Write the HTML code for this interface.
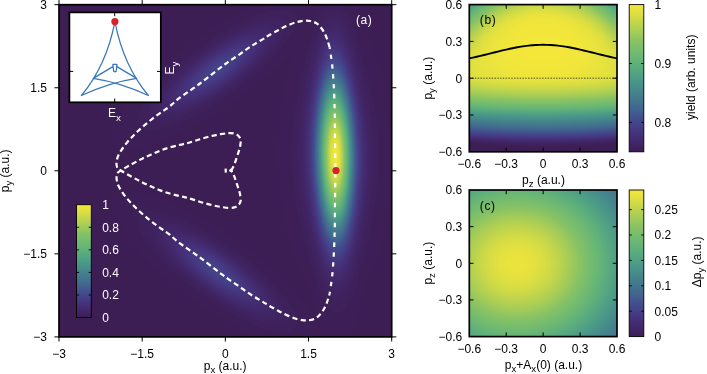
<!DOCTYPE html>
<html><head><meta charset="utf-8"><title>figure</title>
<style>html,body{margin:0;padding:0;background:#fff}svg{display:block}filter,feComponentTransfer,feColorMatrix,feGaussianBlur{color-interpolation-filters:sRGB}text{font-family:"Liberation Sans",Arial,Helvetica,sans-serif;font-size:12px;fill:#000}.w{fill:#fff}</style></head><body>
<svg width="707" height="374" viewBox="0 0 707 374">
<defs>
<filter id="cm" x="0" y="0" width="1" height="1" color-interpolation-filters="sRGB"><feComponentTransfer color-interpolation-filters="sRGB"><feFuncR type="table" tableValues="0.2392 0.2488 0.2584 0.2680 0.2736 0.2707 0.2678 0.2642 0.2612 0.2589 0.2606 0.2624 0.2669 0.2722 0.2794 0.2882 0.3012 0.3235 0.3458 0.3681 0.3976 0.4289 0.4602 0.4982 0.5367 0.5879 0.6451 0.7023 0.7595 0.8145 0.8658 0.9142 0.9608"/><feFuncG type="table" tableValues="0.1176 0.1368 0.1560 0.1752 0.1988 0.2320 0.2652 0.2980 0.3396 0.3857 0.4207 0.4557 0.4880 0.5195 0.5520 0.5852 0.6157 0.6402 0.6647 0.6892 0.7072 0.7235 0.7399 0.7525 0.7647 0.7816 0.8007 0.8197 0.8388 0.8574 0.8752 0.8912 0.9059"/><feFuncB type="table" tableValues="0.3333 0.3728 0.4122 0.4516 0.4867 0.5127 0.5386 0.5564 0.5608 0.5607 0.5590 0.5572 0.5541 0.5506 0.5451 0.5381 0.5287 0.5142 0.4997 0.4852 0.4682 0.4505 0.4328 0.4137 0.3944 0.3716 0.3471 0.3225 0.2980 0.2759 0.2581 0.2422 0.2275"/></feComponentTransfer></filter>
<filter id="cmb" filterUnits="userSpaceOnUse" x="440" y="-20" width="220" height="200" color-interpolation-filters="sRGB"><feGaussianBlur color-interpolation-filters="sRGB" stdDeviation="0 1.6"/><feComponentTransfer color-interpolation-filters="sRGB"><feFuncR type="table" tableValues="0.2392 0.2488 0.2584 0.2680 0.2736 0.2707 0.2678 0.2642 0.2612 0.2589 0.2606 0.2624 0.2669 0.2722 0.2794 0.2882 0.3012 0.3235 0.3458 0.3681 0.3976 0.4289 0.4602 0.4982 0.5367 0.5879 0.6451 0.7023 0.7595 0.8145 0.8658 0.9142 0.9608"/><feFuncG type="table" tableValues="0.1176 0.1368 0.1560 0.1752 0.1988 0.2320 0.2652 0.2980 0.3396 0.3857 0.4207 0.4557 0.4880 0.5195 0.5520 0.5852 0.6157 0.6402 0.6647 0.6892 0.7072 0.7235 0.7399 0.7525 0.7647 0.7816 0.8007 0.8197 0.8388 0.8574 0.8752 0.8912 0.9059"/><feFuncB type="table" tableValues="0.3333 0.3728 0.4122 0.4516 0.4867 0.5127 0.5386 0.5564 0.5608 0.5607 0.5590 0.5572 0.5541 0.5506 0.5451 0.5381 0.5287 0.5142 0.4997 0.4852 0.4682 0.4505 0.4328 0.4137 0.3944 0.3716 0.3471 0.3225 0.2980 0.2759 0.2581 0.2422 0.2275"/></feComponentTransfer></filter>
<radialGradient id="ga1" gradientUnits="userSpaceOnUse" cx="0" cy="0" r="4.00" gradientTransform="translate(335.30 156.00) rotate(-0.70) scale(11.0000 55.0000)"><stop offset="0.0000" stop-color="#fff" stop-opacity="0.8000"/><stop offset="0.0385" stop-color="#fff" stop-opacity="0.7906"/><stop offset="0.0769" stop-color="#fff" stop-opacity="0.7630"/><stop offset="0.1154" stop-color="#fff" stop-opacity="0.7192"/><stop offset="0.1538" stop-color="#fff" stop-opacity="0.6620"/><stop offset="0.1923" stop-color="#fff" stop-opacity="0.5951"/><stop offset="0.2308" stop-color="#fff" stop-opacity="0.5225"/><stop offset="0.2692" stop-color="#fff" stop-opacity="0.4480"/><stop offset="0.3077" stop-color="#fff" stop-opacity="0.3751"/><stop offset="0.3462" stop-color="#fff" stop-opacity="0.3067"/><stop offset="0.3846" stop-color="#fff" stop-opacity="0.2450"/><stop offset="0.4231" stop-color="#fff" stop-opacity="0.1911"/><stop offset="0.4615" stop-color="#fff" stop-opacity="0.1455"/><stop offset="0.5000" stop-color="#fff" stop-opacity="0.1083"/><stop offset="0.5385" stop-color="#fff" stop-opacity="0.0787"/><stop offset="0.5769" stop-color="#fff" stop-opacity="0.0558"/><stop offset="0.6154" stop-color="#fff" stop-opacity="0.0387"/><stop offset="0.6538" stop-color="#fff" stop-opacity="0.0262"/><stop offset="0.6923" stop-color="#fff" stop-opacity="0.0173"/><stop offset="0.7308" stop-color="#fff" stop-opacity="0.0112"/><stop offset="0.7692" stop-color="#fff" stop-opacity="0.0070"/><stop offset="0.8077" stop-color="#fff" stop-opacity="0.0043"/><stop offset="0.8462" stop-color="#fff" stop-opacity="0.0026"/><stop offset="0.8846" stop-color="#fff" stop-opacity="0.0015"/><stop offset="0.9231" stop-color="#fff" stop-opacity="0.0009"/><stop offset="0.9615" stop-color="#fff" stop-opacity="0.0005"/><stop offset="1.0000" stop-color="#fff" stop-opacity="0.0000"/></radialGradient>
<radialGradient id="ga1b" gradientUnits="userSpaceOnUse" cx="0" cy="0" r="4.00" gradientTransform="translate(335.30 156.00) rotate(-0.70) scale(19.0000 48.0000)"><stop offset="0.0000" stop-color="#fff" stop-opacity="0.2000"/><stop offset="0.0385" stop-color="#fff" stop-opacity="0.1976"/><stop offset="0.0769" stop-color="#fff" stop-opacity="0.1908"/><stop offset="0.1154" stop-color="#fff" stop-opacity="0.1798"/><stop offset="0.1538" stop-color="#fff" stop-opacity="0.1655"/><stop offset="0.1923" stop-color="#fff" stop-opacity="0.1488"/><stop offset="0.2308" stop-color="#fff" stop-opacity="0.1306"/><stop offset="0.2692" stop-color="#fff" stop-opacity="0.1120"/><stop offset="0.3077" stop-color="#fff" stop-opacity="0.0938"/><stop offset="0.3462" stop-color="#fff" stop-opacity="0.0767"/><stop offset="0.3846" stop-color="#fff" stop-opacity="0.0612"/><stop offset="0.4231" stop-color="#fff" stop-opacity="0.0478"/><stop offset="0.4615" stop-color="#fff" stop-opacity="0.0364"/><stop offset="0.5000" stop-color="#fff" stop-opacity="0.0271"/><stop offset="0.5385" stop-color="#fff" stop-opacity="0.0197"/><stop offset="0.5769" stop-color="#fff" stop-opacity="0.0140"/><stop offset="0.6154" stop-color="#fff" stop-opacity="0.0097"/><stop offset="0.6538" stop-color="#fff" stop-opacity="0.0065"/><stop offset="0.6923" stop-color="#fff" stop-opacity="0.0043"/><stop offset="0.7308" stop-color="#fff" stop-opacity="0.0028"/><stop offset="0.7692" stop-color="#fff" stop-opacity="0.0018"/><stop offset="0.8077" stop-color="#fff" stop-opacity="0.0011"/><stop offset="0.8462" stop-color="#fff" stop-opacity="0.0007"/><stop offset="0.8846" stop-color="#fff" stop-opacity="0.0004"/><stop offset="0.9231" stop-color="#fff" stop-opacity="0.0002"/><stop offset="0.9615" stop-color="#fff" stop-opacity="0.0001"/><stop offset="1.0000" stop-color="#fff" stop-opacity="0.0000"/></radialGradient>
<radialGradient id="ga2" gradientUnits="userSpaceOnUse" cx="0" cy="0" r="4.00" gradientTransform="translate(217.00 69.50) rotate(-36.00) scale(42.0000 12.0000)"><stop offset="0.0000" stop-color="#fff" stop-opacity="0.1900"/><stop offset="0.0385" stop-color="#fff" stop-opacity="0.1878"/><stop offset="0.0769" stop-color="#fff" stop-opacity="0.1812"/><stop offset="0.1154" stop-color="#fff" stop-opacity="0.1708"/><stop offset="0.1538" stop-color="#fff" stop-opacity="0.1572"/><stop offset="0.1923" stop-color="#fff" stop-opacity="0.1413"/><stop offset="0.2308" stop-color="#fff" stop-opacity="0.1241"/><stop offset="0.2692" stop-color="#fff" stop-opacity="0.1064"/><stop offset="0.3077" stop-color="#fff" stop-opacity="0.0891"/><stop offset="0.3462" stop-color="#fff" stop-opacity="0.0729"/><stop offset="0.3846" stop-color="#fff" stop-opacity="0.0582"/><stop offset="0.4231" stop-color="#fff" stop-opacity="0.0454"/><stop offset="0.4615" stop-color="#fff" stop-opacity="0.0346"/><stop offset="0.5000" stop-color="#fff" stop-opacity="0.0257"/><stop offset="0.5385" stop-color="#fff" stop-opacity="0.0187"/><stop offset="0.5769" stop-color="#fff" stop-opacity="0.0133"/><stop offset="0.6154" stop-color="#fff" stop-opacity="0.0092"/><stop offset="0.6538" stop-color="#fff" stop-opacity="0.0062"/><stop offset="0.6923" stop-color="#fff" stop-opacity="0.0041"/><stop offset="0.7308" stop-color="#fff" stop-opacity="0.0027"/><stop offset="0.7692" stop-color="#fff" stop-opacity="0.0017"/><stop offset="0.8077" stop-color="#fff" stop-opacity="0.0010"/><stop offset="0.8462" stop-color="#fff" stop-opacity="0.0006"/><stop offset="0.8846" stop-color="#fff" stop-opacity="0.0004"/><stop offset="0.9231" stop-color="#fff" stop-opacity="0.0002"/><stop offset="0.9615" stop-color="#fff" stop-opacity="0.0001"/><stop offset="1.0000" stop-color="#fff" stop-opacity="0.0000"/></radialGradient>
<radialGradient id="ga3" gradientUnits="userSpaceOnUse" cx="0" cy="0" r="4.00" gradientTransform="translate(217.00 271.50) rotate(36.00) scale(42.0000 12.0000)"><stop offset="0.0000" stop-color="#fff" stop-opacity="0.1900"/><stop offset="0.0385" stop-color="#fff" stop-opacity="0.1878"/><stop offset="0.0769" stop-color="#fff" stop-opacity="0.1812"/><stop offset="0.1154" stop-color="#fff" stop-opacity="0.1708"/><stop offset="0.1538" stop-color="#fff" stop-opacity="0.1572"/><stop offset="0.1923" stop-color="#fff" stop-opacity="0.1413"/><stop offset="0.2308" stop-color="#fff" stop-opacity="0.1241"/><stop offset="0.2692" stop-color="#fff" stop-opacity="0.1064"/><stop offset="0.3077" stop-color="#fff" stop-opacity="0.0891"/><stop offset="0.3462" stop-color="#fff" stop-opacity="0.0729"/><stop offset="0.3846" stop-color="#fff" stop-opacity="0.0582"/><stop offset="0.4231" stop-color="#fff" stop-opacity="0.0454"/><stop offset="0.4615" stop-color="#fff" stop-opacity="0.0346"/><stop offset="0.5000" stop-color="#fff" stop-opacity="0.0257"/><stop offset="0.5385" stop-color="#fff" stop-opacity="0.0187"/><stop offset="0.5769" stop-color="#fff" stop-opacity="0.0133"/><stop offset="0.6154" stop-color="#fff" stop-opacity="0.0092"/><stop offset="0.6538" stop-color="#fff" stop-opacity="0.0062"/><stop offset="0.6923" stop-color="#fff" stop-opacity="0.0041"/><stop offset="0.7308" stop-color="#fff" stop-opacity="0.0027"/><stop offset="0.7692" stop-color="#fff" stop-opacity="0.0017"/><stop offset="0.8077" stop-color="#fff" stop-opacity="0.0010"/><stop offset="0.8462" stop-color="#fff" stop-opacity="0.0006"/><stop offset="0.8846" stop-color="#fff" stop-opacity="0.0004"/><stop offset="0.9231" stop-color="#fff" stop-opacity="0.0002"/><stop offset="0.9615" stop-color="#fff" stop-opacity="0.0001"/><stop offset="1.0000" stop-color="#fff" stop-opacity="0.0000"/></radialGradient>
<linearGradient id="cbg" x1="0" y1="1" x2="0" y2="0"><stop offset="0" stop-color="#000"/><stop offset="1" stop-color="#fff"/></linearGradient>
<linearGradient id="rb0" gradientUnits="userSpaceOnUse" x1="461.30" y1="0" x2="625.00" y2="0"><stop offset="0.000" stop-color="#777777"/><stop offset="0.071" stop-color="#828282"/><stop offset="0.143" stop-color="#a4a4a4"/><stop offset="0.214" stop-color="#bcbcbc"/><stop offset="0.286" stop-color="#cfcfcf"/><stop offset="0.357" stop-color="#dadada"/><stop offset="0.429" stop-color="#e0e0e0"/><stop offset="0.500" stop-color="#e3e3e3"/><stop offset="0.571" stop-color="#e0e0e0"/><stop offset="0.643" stop-color="#dadada"/><stop offset="0.714" stop-color="#cfcfcf"/><stop offset="0.786" stop-color="#bcbcbc"/><stop offset="0.857" stop-color="#a4a4a4"/><stop offset="0.929" stop-color="#828282"/><stop offset="1.000" stop-color="#777777"/></linearGradient>
<linearGradient id="rb1" gradientUnits="userSpaceOnUse" x1="461.30" y1="0" x2="625.00" y2="0"><stop offset="0.000" stop-color="#777777"/><stop offset="0.071" stop-color="#828282"/><stop offset="0.143" stop-color="#a4a4a4"/><stop offset="0.214" stop-color="#bcbcbc"/><stop offset="0.286" stop-color="#cfcfcf"/><stop offset="0.357" stop-color="#dadada"/><stop offset="0.429" stop-color="#e0e0e0"/><stop offset="0.500" stop-color="#e3e3e3"/><stop offset="0.571" stop-color="#e0e0e0"/><stop offset="0.643" stop-color="#dadada"/><stop offset="0.714" stop-color="#cfcfcf"/><stop offset="0.786" stop-color="#bcbcbc"/><stop offset="0.857" stop-color="#a4a4a4"/><stop offset="0.929" stop-color="#828282"/><stop offset="1.000" stop-color="#777777"/></linearGradient>
<linearGradient id="rb2" gradientUnits="userSpaceOnUse" x1="461.30" y1="0" x2="625.00" y2="0"><stop offset="0.000" stop-color="#777777"/><stop offset="0.071" stop-color="#828282"/><stop offset="0.143" stop-color="#a4a4a4"/><stop offset="0.214" stop-color="#bcbcbc"/><stop offset="0.286" stop-color="#cfcfcf"/><stop offset="0.357" stop-color="#dadada"/><stop offset="0.429" stop-color="#e0e0e0"/><stop offset="0.500" stop-color="#e3e3e3"/><stop offset="0.571" stop-color="#e0e0e0"/><stop offset="0.643" stop-color="#dadada"/><stop offset="0.714" stop-color="#cfcfcf"/><stop offset="0.786" stop-color="#bcbcbc"/><stop offset="0.857" stop-color="#a4a4a4"/><stop offset="0.929" stop-color="#828282"/><stop offset="1.000" stop-color="#777777"/></linearGradient>
<linearGradient id="rb3" gradientUnits="userSpaceOnUse" x1="461.30" y1="0" x2="625.00" y2="0"><stop offset="0.000" stop-color="#7a7a7a"/><stop offset="0.071" stop-color="#868686"/><stop offset="0.143" stop-color="#a7a7a7"/><stop offset="0.214" stop-color="#c0c0c0"/><stop offset="0.286" stop-color="#d1d1d1"/><stop offset="0.357" stop-color="#dcdcdc"/><stop offset="0.429" stop-color="#e3e3e3"/><stop offset="0.500" stop-color="#e5e5e5"/><stop offset="0.571" stop-color="#e3e3e3"/><stop offset="0.643" stop-color="#dcdcdc"/><stop offset="0.714" stop-color="#d1d1d1"/><stop offset="0.786" stop-color="#c0c0c0"/><stop offset="0.857" stop-color="#a7a7a7"/><stop offset="0.929" stop-color="#868686"/><stop offset="1.000" stop-color="#7a7a7a"/></linearGradient>
<linearGradient id="rb4" gradientUnits="userSpaceOnUse" x1="461.30" y1="0" x2="625.00" y2="0"><stop offset="0.000" stop-color="#828282"/><stop offset="0.071" stop-color="#8e8e8e"/><stop offset="0.143" stop-color="#aeaeae"/><stop offset="0.214" stop-color="#c7c7c7"/><stop offset="0.286" stop-color="#d6d6d6"/><stop offset="0.357" stop-color="#e2e2e2"/><stop offset="0.429" stop-color="#e7e7e7"/><stop offset="0.500" stop-color="#e9e9e9"/><stop offset="0.571" stop-color="#e7e7e7"/><stop offset="0.643" stop-color="#e2e2e2"/><stop offset="0.714" stop-color="#d6d6d6"/><stop offset="0.786" stop-color="#c7c7c7"/><stop offset="0.857" stop-color="#aeaeae"/><stop offset="0.929" stop-color="#8e8e8e"/><stop offset="1.000" stop-color="#828282"/></linearGradient>
<linearGradient id="rb5" gradientUnits="userSpaceOnUse" x1="461.30" y1="0" x2="625.00" y2="0"><stop offset="0.000" stop-color="#898989"/><stop offset="0.071" stop-color="#959595"/><stop offset="0.143" stop-color="#b4b4b4"/><stop offset="0.214" stop-color="#cccccc"/><stop offset="0.286" stop-color="#dcdcdc"/><stop offset="0.357" stop-color="#e6e6e6"/><stop offset="0.429" stop-color="#ececec"/><stop offset="0.500" stop-color="#eeeeee"/><stop offset="0.571" stop-color="#ececec"/><stop offset="0.643" stop-color="#e6e6e6"/><stop offset="0.714" stop-color="#dcdcdc"/><stop offset="0.786" stop-color="#cccccc"/><stop offset="0.857" stop-color="#b4b4b4"/><stop offset="0.929" stop-color="#959595"/><stop offset="1.000" stop-color="#898989"/></linearGradient>
<linearGradient id="rb6" gradientUnits="userSpaceOnUse" x1="461.30" y1="0" x2="625.00" y2="0"><stop offset="0.000" stop-color="#909090"/><stop offset="0.071" stop-color="#9d9d9d"/><stop offset="0.143" stop-color="#bbbbbb"/><stop offset="0.214" stop-color="#d1d1d1"/><stop offset="0.286" stop-color="#e1e1e1"/><stop offset="0.357" stop-color="#eaeaea"/><stop offset="0.429" stop-color="#f0f0f0"/><stop offset="0.500" stop-color="#f2f2f2"/><stop offset="0.571" stop-color="#f0f0f0"/><stop offset="0.643" stop-color="#eaeaea"/><stop offset="0.714" stop-color="#e1e1e1"/><stop offset="0.786" stop-color="#d1d1d1"/><stop offset="0.857" stop-color="#bbbbbb"/><stop offset="0.929" stop-color="#9d9d9d"/><stop offset="1.000" stop-color="#909090"/></linearGradient>
<linearGradient id="rb7" gradientUnits="userSpaceOnUse" x1="461.30" y1="0" x2="625.00" y2="0"><stop offset="0.000" stop-color="#989898"/><stop offset="0.071" stop-color="#a3a3a3"/><stop offset="0.143" stop-color="#c1c1c1"/><stop offset="0.214" stop-color="#d6d6d6"/><stop offset="0.286" stop-color="#e5e5e5"/><stop offset="0.357" stop-color="#eeeeee"/><stop offset="0.429" stop-color="#f4f4f4"/><stop offset="0.500" stop-color="#f6f6f6"/><stop offset="0.571" stop-color="#f4f4f4"/><stop offset="0.643" stop-color="#eeeeee"/><stop offset="0.714" stop-color="#e5e5e5"/><stop offset="0.786" stop-color="#d6d6d6"/><stop offset="0.857" stop-color="#c1c1c1"/><stop offset="0.929" stop-color="#a3a3a3"/><stop offset="1.000" stop-color="#989898"/></linearGradient>
<linearGradient id="rb8" gradientUnits="userSpaceOnUse" x1="461.30" y1="0" x2="625.00" y2="0"><stop offset="0.000" stop-color="#9f9f9f"/><stop offset="0.071" stop-color="#a9a9a9"/><stop offset="0.143" stop-color="#c7c7c7"/><stop offset="0.214" stop-color="#dbdbdb"/><stop offset="0.286" stop-color="#e9e9e9"/><stop offset="0.357" stop-color="#f2f2f2"/><stop offset="0.429" stop-color="#f7f7f7"/><stop offset="0.500" stop-color="#f8f8f8"/><stop offset="0.571" stop-color="#f7f7f7"/><stop offset="0.643" stop-color="#f2f2f2"/><stop offset="0.714" stop-color="#e9e9e9"/><stop offset="0.786" stop-color="#dbdbdb"/><stop offset="0.857" stop-color="#c7c7c7"/><stop offset="0.929" stop-color="#a9a9a9"/><stop offset="1.000" stop-color="#9f9f9f"/></linearGradient>
<linearGradient id="rb9" gradientUnits="userSpaceOnUse" x1="461.30" y1="0" x2="625.00" y2="0"><stop offset="0.000" stop-color="#a4a4a4"/><stop offset="0.071" stop-color="#afafaf"/><stop offset="0.143" stop-color="#cccccc"/><stop offset="0.214" stop-color="#e0e0e0"/><stop offset="0.286" stop-color="#ededed"/><stop offset="0.357" stop-color="#f6f6f6"/><stop offset="0.429" stop-color="#f9f9f9"/><stop offset="0.500" stop-color="#f9f9f9"/><stop offset="0.571" stop-color="#f9f9f9"/><stop offset="0.643" stop-color="#f6f6f6"/><stop offset="0.714" stop-color="#ededed"/><stop offset="0.786" stop-color="#e0e0e0"/><stop offset="0.857" stop-color="#cccccc"/><stop offset="0.929" stop-color="#afafaf"/><stop offset="1.000" stop-color="#a4a4a4"/></linearGradient>
<linearGradient id="rb10" gradientUnits="userSpaceOnUse" x1="461.30" y1="0" x2="625.00" y2="0"><stop offset="0.000" stop-color="#aaaaaa"/><stop offset="0.071" stop-color="#b5b5b5"/><stop offset="0.143" stop-color="#d0d0d0"/><stop offset="0.214" stop-color="#e4e4e4"/><stop offset="0.286" stop-color="#f1f1f1"/><stop offset="0.357" stop-color="#f8f8f8"/><stop offset="0.429" stop-color="#fafafa"/><stop offset="0.500" stop-color="#fbfbfb"/><stop offset="0.571" stop-color="#fafafa"/><stop offset="0.643" stop-color="#f8f8f8"/><stop offset="0.714" stop-color="#f1f1f1"/><stop offset="0.786" stop-color="#e4e4e4"/><stop offset="0.857" stop-color="#d0d0d0"/><stop offset="0.929" stop-color="#b5b5b5"/><stop offset="1.000" stop-color="#aaaaaa"/></linearGradient>
<linearGradient id="rb11" gradientUnits="userSpaceOnUse" x1="461.30" y1="0" x2="625.00" y2="0"><stop offset="0.000" stop-color="#b0b0b0"/><stop offset="0.071" stop-color="#bbbbbb"/><stop offset="0.143" stop-color="#d5d5d5"/><stop offset="0.214" stop-color="#e7e7e7"/><stop offset="0.286" stop-color="#f5f5f5"/><stop offset="0.357" stop-color="#f9f9f9"/><stop offset="0.429" stop-color="#fbfbfb"/><stop offset="0.500" stop-color="#fcfcfc"/><stop offset="0.571" stop-color="#fbfbfb"/><stop offset="0.643" stop-color="#f9f9f9"/><stop offset="0.714" stop-color="#f5f5f5"/><stop offset="0.786" stop-color="#e7e7e7"/><stop offset="0.857" stop-color="#d5d5d5"/><stop offset="0.929" stop-color="#bbbbbb"/><stop offset="1.000" stop-color="#b0b0b0"/></linearGradient>
<linearGradient id="rb12" gradientUnits="userSpaceOnUse" x1="461.30" y1="0" x2="625.00" y2="0"><stop offset="0.000" stop-color="#b5b5b5"/><stop offset="0.071" stop-color="#c0c0c0"/><stop offset="0.143" stop-color="#d9d9d9"/><stop offset="0.214" stop-color="#ebebeb"/><stop offset="0.286" stop-color="#f6f6f6"/><stop offset="0.357" stop-color="#fafafa"/><stop offset="0.429" stop-color="#fcfcfc"/><stop offset="0.500" stop-color="#fdfdfd"/><stop offset="0.571" stop-color="#fcfcfc"/><stop offset="0.643" stop-color="#fafafa"/><stop offset="0.714" stop-color="#f6f6f6"/><stop offset="0.786" stop-color="#ebebeb"/><stop offset="0.857" stop-color="#d9d9d9"/><stop offset="0.929" stop-color="#c0c0c0"/><stop offset="1.000" stop-color="#b5b5b5"/></linearGradient>
<linearGradient id="rb13" gradientUnits="userSpaceOnUse" x1="461.30" y1="0" x2="625.00" y2="0"><stop offset="0.000" stop-color="#bbbbbb"/><stop offset="0.071" stop-color="#c5c5c5"/><stop offset="0.143" stop-color="#dedede"/><stop offset="0.214" stop-color="#eeeeee"/><stop offset="0.286" stop-color="#f7f7f7"/><stop offset="0.357" stop-color="#fbfbfb"/><stop offset="0.429" stop-color="#fdfdfd"/><stop offset="0.500" stop-color="#fdfdfd"/><stop offset="0.571" stop-color="#fdfdfd"/><stop offset="0.643" stop-color="#fbfbfb"/><stop offset="0.714" stop-color="#f7f7f7"/><stop offset="0.786" stop-color="#eeeeee"/><stop offset="0.857" stop-color="#dedede"/><stop offset="0.929" stop-color="#c5c5c5"/><stop offset="1.000" stop-color="#bbbbbb"/></linearGradient>
<linearGradient id="rb14" gradientUnits="userSpaceOnUse" x1="461.30" y1="0" x2="625.00" y2="0"><stop offset="0.000" stop-color="#c0c0c0"/><stop offset="0.071" stop-color="#c9c9c9"/><stop offset="0.143" stop-color="#e1e1e1"/><stop offset="0.214" stop-color="#f2f2f2"/><stop offset="0.286" stop-color="#f8f8f8"/><stop offset="0.357" stop-color="#fcfcfc"/><stop offset="0.429" stop-color="#fdfdfd"/><stop offset="0.500" stop-color="#fefefe"/><stop offset="0.571" stop-color="#fdfdfd"/><stop offset="0.643" stop-color="#fcfcfc"/><stop offset="0.714" stop-color="#f8f8f8"/><stop offset="0.786" stop-color="#f2f2f2"/><stop offset="0.857" stop-color="#e1e1e1"/><stop offset="0.929" stop-color="#c9c9c9"/><stop offset="1.000" stop-color="#c0c0c0"/></linearGradient>
<linearGradient id="rb15" gradientUnits="userSpaceOnUse" x1="461.30" y1="0" x2="625.00" y2="0"><stop offset="0.000" stop-color="#c5c5c5"/><stop offset="0.071" stop-color="#cdcdcd"/><stop offset="0.143" stop-color="#e4e4e4"/><stop offset="0.214" stop-color="#f4f4f4"/><stop offset="0.286" stop-color="#f9f9f9"/><stop offset="0.357" stop-color="#fcfcfc"/><stop offset="0.429" stop-color="#fefefe"/><stop offset="0.500" stop-color="#fefefe"/><stop offset="0.571" stop-color="#fefefe"/><stop offset="0.643" stop-color="#fcfcfc"/><stop offset="0.714" stop-color="#f9f9f9"/><stop offset="0.786" stop-color="#f4f4f4"/><stop offset="0.857" stop-color="#e4e4e4"/><stop offset="0.929" stop-color="#cdcdcd"/><stop offset="1.000" stop-color="#c5c5c5"/></linearGradient>
<linearGradient id="rb16" gradientUnits="userSpaceOnUse" x1="461.30" y1="0" x2="625.00" y2="0"><stop offset="0.000" stop-color="#c8c8c8"/><stop offset="0.071" stop-color="#d1d1d1"/><stop offset="0.143" stop-color="#e7e7e7"/><stop offset="0.214" stop-color="#f5f5f5"/><stop offset="0.286" stop-color="#fafafa"/><stop offset="0.357" stop-color="#fdfdfd"/><stop offset="0.429" stop-color="#fefefe"/><stop offset="0.500" stop-color="#fefefe"/><stop offset="0.571" stop-color="#fefefe"/><stop offset="0.643" stop-color="#fdfdfd"/><stop offset="0.714" stop-color="#fafafa"/><stop offset="0.786" stop-color="#f5f5f5"/><stop offset="0.857" stop-color="#e7e7e7"/><stop offset="0.929" stop-color="#d1d1d1"/><stop offset="1.000" stop-color="#c8c8c8"/></linearGradient>
<linearGradient id="rb17" gradientUnits="userSpaceOnUse" x1="461.30" y1="0" x2="625.00" y2="0"><stop offset="0.000" stop-color="#cccccc"/><stop offset="0.071" stop-color="#d5d5d5"/><stop offset="0.143" stop-color="#eaeaea"/><stop offset="0.214" stop-color="#f6f6f6"/><stop offset="0.286" stop-color="#fbfbfb"/><stop offset="0.357" stop-color="#fdfdfd"/><stop offset="0.429" stop-color="#fefefe"/><stop offset="0.500" stop-color="#ffffff"/><stop offset="0.571" stop-color="#fefefe"/><stop offset="0.643" stop-color="#fdfdfd"/><stop offset="0.714" stop-color="#fbfbfb"/><stop offset="0.786" stop-color="#f6f6f6"/><stop offset="0.857" stop-color="#eaeaea"/><stop offset="0.929" stop-color="#d5d5d5"/><stop offset="1.000" stop-color="#cccccc"/></linearGradient>
<linearGradient id="rb18" gradientUnits="userSpaceOnUse" x1="461.30" y1="0" x2="625.00" y2="0"><stop offset="0.000" stop-color="#d0d0d0"/><stop offset="0.071" stop-color="#d9d9d9"/><stop offset="0.143" stop-color="#eeeeee"/><stop offset="0.214" stop-color="#f7f7f7"/><stop offset="0.286" stop-color="#fbfbfb"/><stop offset="0.357" stop-color="#fdfdfd"/><stop offset="0.429" stop-color="#ffffff"/><stop offset="0.500" stop-color="#ffffff"/><stop offset="0.571" stop-color="#ffffff"/><stop offset="0.643" stop-color="#fdfdfd"/><stop offset="0.714" stop-color="#fbfbfb"/><stop offset="0.786" stop-color="#f7f7f7"/><stop offset="0.857" stop-color="#eeeeee"/><stop offset="0.929" stop-color="#d9d9d9"/><stop offset="1.000" stop-color="#d0d0d0"/></linearGradient>
<linearGradient id="rb19" gradientUnits="userSpaceOnUse" x1="461.30" y1="0" x2="625.00" y2="0"><stop offset="0.000" stop-color="#d3d3d3"/><stop offset="0.071" stop-color="#dcdcdc"/><stop offset="0.143" stop-color="#f1f1f1"/><stop offset="0.214" stop-color="#f8f8f8"/><stop offset="0.286" stop-color="#fbfbfb"/><stop offset="0.357" stop-color="#fefefe"/><stop offset="0.429" stop-color="#ffffff"/><stop offset="0.500" stop-color="#ffffff"/><stop offset="0.571" stop-color="#ffffff"/><stop offset="0.643" stop-color="#fefefe"/><stop offset="0.714" stop-color="#fbfbfb"/><stop offset="0.786" stop-color="#f8f8f8"/><stop offset="0.857" stop-color="#f1f1f1"/><stop offset="0.929" stop-color="#dcdcdc"/><stop offset="1.000" stop-color="#d3d3d3"/></linearGradient>
<linearGradient id="rb20" gradientUnits="userSpaceOnUse" x1="461.30" y1="0" x2="625.00" y2="0"><stop offset="0.000" stop-color="#d7d7d7"/><stop offset="0.071" stop-color="#dfdfdf"/><stop offset="0.143" stop-color="#f2f2f2"/><stop offset="0.214" stop-color="#f9f9f9"/><stop offset="0.286" stop-color="#fcfcfc"/><stop offset="0.357" stop-color="#fefefe"/><stop offset="0.429" stop-color="#ffffff"/><stop offset="0.500" stop-color="#ffffff"/><stop offset="0.571" stop-color="#ffffff"/><stop offset="0.643" stop-color="#fefefe"/><stop offset="0.714" stop-color="#fcfcfc"/><stop offset="0.786" stop-color="#f9f9f9"/><stop offset="0.857" stop-color="#f2f2f2"/><stop offset="0.929" stop-color="#dfdfdf"/><stop offset="1.000" stop-color="#d7d7d7"/></linearGradient>
<linearGradient id="rb21" gradientUnits="userSpaceOnUse" x1="461.30" y1="0" x2="625.00" y2="0"><stop offset="0.000" stop-color="#dadada"/><stop offset="0.071" stop-color="#e1e1e1"/><stop offset="0.143" stop-color="#f3f3f3"/><stop offset="0.214" stop-color="#f9f9f9"/><stop offset="0.286" stop-color="#fcfcfc"/><stop offset="0.357" stop-color="#fefefe"/><stop offset="0.429" stop-color="#ffffff"/><stop offset="0.500" stop-color="#ffffff"/><stop offset="0.571" stop-color="#ffffff"/><stop offset="0.643" stop-color="#fefefe"/><stop offset="0.714" stop-color="#fcfcfc"/><stop offset="0.786" stop-color="#f9f9f9"/><stop offset="0.857" stop-color="#f3f3f3"/><stop offset="0.929" stop-color="#e1e1e1"/><stop offset="1.000" stop-color="#dadada"/></linearGradient>
<linearGradient id="rb22" gradientUnits="userSpaceOnUse" x1="461.30" y1="0" x2="625.00" y2="0"><stop offset="0.000" stop-color="#dddddd"/><stop offset="0.071" stop-color="#e4e4e4"/><stop offset="0.143" stop-color="#f3f3f3"/><stop offset="0.214" stop-color="#f9f9f9"/><stop offset="0.286" stop-color="#fcfcfc"/><stop offset="0.357" stop-color="#fefefe"/><stop offset="0.429" stop-color="#ffffff"/><stop offset="0.500" stop-color="#ffffff"/><stop offset="0.571" stop-color="#ffffff"/><stop offset="0.643" stop-color="#fefefe"/><stop offset="0.714" stop-color="#fcfcfc"/><stop offset="0.786" stop-color="#f9f9f9"/><stop offset="0.857" stop-color="#f3f3f3"/><stop offset="0.929" stop-color="#e4e4e4"/><stop offset="1.000" stop-color="#dddddd"/></linearGradient>
<linearGradient id="rb23" gradientUnits="userSpaceOnUse" x1="461.30" y1="0" x2="625.00" y2="0"><stop offset="0.000" stop-color="#dfdfdf"/><stop offset="0.071" stop-color="#e7e7e7"/><stop offset="0.143" stop-color="#f4f4f4"/><stop offset="0.214" stop-color="#f9f9f9"/><stop offset="0.286" stop-color="#fdfdfd"/><stop offset="0.357" stop-color="#fefefe"/><stop offset="0.429" stop-color="#ffffff"/><stop offset="0.500" stop-color="#ffffff"/><stop offset="0.571" stop-color="#ffffff"/><stop offset="0.643" stop-color="#fefefe"/><stop offset="0.714" stop-color="#fdfdfd"/><stop offset="0.786" stop-color="#f9f9f9"/><stop offset="0.857" stop-color="#f4f4f4"/><stop offset="0.929" stop-color="#e7e7e7"/><stop offset="1.000" stop-color="#dfdfdf"/></linearGradient>
<linearGradient id="rb24" gradientUnits="userSpaceOnUse" x1="461.30" y1="0" x2="625.00" y2="0"><stop offset="0.000" stop-color="#e2e2e2"/><stop offset="0.071" stop-color="#e9e9e9"/><stop offset="0.143" stop-color="#f5f5f5"/><stop offset="0.214" stop-color="#fafafa"/><stop offset="0.286" stop-color="#fdfdfd"/><stop offset="0.357" stop-color="#fefefe"/><stop offset="0.429" stop-color="#ffffff"/><stop offset="0.500" stop-color="#ffffff"/><stop offset="0.571" stop-color="#ffffff"/><stop offset="0.643" stop-color="#fefefe"/><stop offset="0.714" stop-color="#fdfdfd"/><stop offset="0.786" stop-color="#fafafa"/><stop offset="0.857" stop-color="#f5f5f5"/><stop offset="0.929" stop-color="#e9e9e9"/><stop offset="1.000" stop-color="#e2e2e2"/></linearGradient>
<linearGradient id="rb25" gradientUnits="userSpaceOnUse" x1="461.30" y1="0" x2="625.00" y2="0"><stop offset="0.000" stop-color="#e4e4e4"/><stop offset="0.071" stop-color="#ebebeb"/><stop offset="0.143" stop-color="#f6f6f6"/><stop offset="0.214" stop-color="#fafafa"/><stop offset="0.286" stop-color="#fdfdfd"/><stop offset="0.357" stop-color="#fefefe"/><stop offset="0.429" stop-color="#ffffff"/><stop offset="0.500" stop-color="#ffffff"/><stop offset="0.571" stop-color="#ffffff"/><stop offset="0.643" stop-color="#fefefe"/><stop offset="0.714" stop-color="#fdfdfd"/><stop offset="0.786" stop-color="#fafafa"/><stop offset="0.857" stop-color="#f6f6f6"/><stop offset="0.929" stop-color="#ebebeb"/><stop offset="1.000" stop-color="#e4e4e4"/></linearGradient>
<linearGradient id="rb26" gradientUnits="userSpaceOnUse" x1="461.30" y1="0" x2="625.00" y2="0"><stop offset="0.000" stop-color="#e6e6e6"/><stop offset="0.071" stop-color="#eeeeee"/><stop offset="0.143" stop-color="#f6f6f6"/><stop offset="0.214" stop-color="#fafafa"/><stop offset="0.286" stop-color="#fdfdfd"/><stop offset="0.357" stop-color="#fefefe"/><stop offset="0.429" stop-color="#ffffff"/><stop offset="0.500" stop-color="#ffffff"/><stop offset="0.571" stop-color="#ffffff"/><stop offset="0.643" stop-color="#fefefe"/><stop offset="0.714" stop-color="#fdfdfd"/><stop offset="0.786" stop-color="#fafafa"/><stop offset="0.857" stop-color="#f6f6f6"/><stop offset="0.929" stop-color="#eeeeee"/><stop offset="1.000" stop-color="#e6e6e6"/></linearGradient>
<linearGradient id="rb27" gradientUnits="userSpaceOnUse" x1="461.30" y1="0" x2="625.00" y2="0"><stop offset="0.000" stop-color="#e8e8e8"/><stop offset="0.071" stop-color="#efefef"/><stop offset="0.143" stop-color="#f6f6f6"/><stop offset="0.214" stop-color="#fafafa"/><stop offset="0.286" stop-color="#fdfdfd"/><stop offset="0.357" stop-color="#fefefe"/><stop offset="0.429" stop-color="#ffffff"/><stop offset="0.500" stop-color="#ffffff"/><stop offset="0.571" stop-color="#ffffff"/><stop offset="0.643" stop-color="#fefefe"/><stop offset="0.714" stop-color="#fdfdfd"/><stop offset="0.786" stop-color="#fafafa"/><stop offset="0.857" stop-color="#f6f6f6"/><stop offset="0.929" stop-color="#efefef"/><stop offset="1.000" stop-color="#e8e8e8"/></linearGradient>
<linearGradient id="rb28" gradientUnits="userSpaceOnUse" x1="461.30" y1="0" x2="625.00" y2="0"><stop offset="0.000" stop-color="#eaeaea"/><stop offset="0.071" stop-color="#efefef"/><stop offset="0.143" stop-color="#f7f7f7"/><stop offset="0.214" stop-color="#fbfbfb"/><stop offset="0.286" stop-color="#fdfdfd"/><stop offset="0.357" stop-color="#fefefe"/><stop offset="0.429" stop-color="#ffffff"/><stop offset="0.500" stop-color="#ffffff"/><stop offset="0.571" stop-color="#ffffff"/><stop offset="0.643" stop-color="#fefefe"/><stop offset="0.714" stop-color="#fdfdfd"/><stop offset="0.786" stop-color="#fbfbfb"/><stop offset="0.857" stop-color="#f7f7f7"/><stop offset="0.929" stop-color="#efefef"/><stop offset="1.000" stop-color="#eaeaea"/></linearGradient>
<linearGradient id="rb29" gradientUnits="userSpaceOnUse" x1="461.30" y1="0" x2="625.00" y2="0"><stop offset="0.000" stop-color="#ececec"/><stop offset="0.071" stop-color="#f0f0f0"/><stop offset="0.143" stop-color="#f7f7f7"/><stop offset="0.214" stop-color="#fbfbfb"/><stop offset="0.286" stop-color="#fdfdfd"/><stop offset="0.357" stop-color="#fefefe"/><stop offset="0.429" stop-color="#ffffff"/><stop offset="0.500" stop-color="#ffffff"/><stop offset="0.571" stop-color="#ffffff"/><stop offset="0.643" stop-color="#fefefe"/><stop offset="0.714" stop-color="#fdfdfd"/><stop offset="0.786" stop-color="#fbfbfb"/><stop offset="0.857" stop-color="#f7f7f7"/><stop offset="0.929" stop-color="#f0f0f0"/><stop offset="1.000" stop-color="#ececec"/></linearGradient>
<linearGradient id="rb30" gradientUnits="userSpaceOnUse" x1="461.30" y1="0" x2="625.00" y2="0"><stop offset="0.000" stop-color="#ededed"/><stop offset="0.071" stop-color="#f0f0f0"/><stop offset="0.143" stop-color="#f7f7f7"/><stop offset="0.214" stop-color="#fafafa"/><stop offset="0.286" stop-color="#fdfdfd"/><stop offset="0.357" stop-color="#fefefe"/><stop offset="0.429" stop-color="#ffffff"/><stop offset="0.500" stop-color="#ffffff"/><stop offset="0.571" stop-color="#ffffff"/><stop offset="0.643" stop-color="#fefefe"/><stop offset="0.714" stop-color="#fdfdfd"/><stop offset="0.786" stop-color="#fafafa"/><stop offset="0.857" stop-color="#f7f7f7"/><stop offset="0.929" stop-color="#f0f0f0"/><stop offset="1.000" stop-color="#ededed"/></linearGradient>
<linearGradient id="rb31" gradientUnits="userSpaceOnUse" x1="461.30" y1="0" x2="625.00" y2="0"><stop offset="0.000" stop-color="#eeeeee"/><stop offset="0.071" stop-color="#f1f1f1"/><stop offset="0.143" stop-color="#f7f7f7"/><stop offset="0.214" stop-color="#fafafa"/><stop offset="0.286" stop-color="#fcfcfc"/><stop offset="0.357" stop-color="#fdfdfd"/><stop offset="0.429" stop-color="#fefefe"/><stop offset="0.500" stop-color="#ffffff"/><stop offset="0.571" stop-color="#fefefe"/><stop offset="0.643" stop-color="#fdfdfd"/><stop offset="0.714" stop-color="#fcfcfc"/><stop offset="0.786" stop-color="#fafafa"/><stop offset="0.857" stop-color="#f7f7f7"/><stop offset="0.929" stop-color="#f1f1f1"/><stop offset="1.000" stop-color="#eeeeee"/></linearGradient>
<linearGradient id="rb32" gradientUnits="userSpaceOnUse" x1="461.30" y1="0" x2="625.00" y2="0"><stop offset="0.000" stop-color="#eeeeee"/><stop offset="0.071" stop-color="#f1f1f1"/><stop offset="0.143" stop-color="#f7f7f7"/><stop offset="0.214" stop-color="#fafafa"/><stop offset="0.286" stop-color="#fcfcfc"/><stop offset="0.357" stop-color="#fdfdfd"/><stop offset="0.429" stop-color="#fefefe"/><stop offset="0.500" stop-color="#fefefe"/><stop offset="0.571" stop-color="#fefefe"/><stop offset="0.643" stop-color="#fdfdfd"/><stop offset="0.714" stop-color="#fcfcfc"/><stop offset="0.786" stop-color="#fafafa"/><stop offset="0.857" stop-color="#f7f7f7"/><stop offset="0.929" stop-color="#f1f1f1"/><stop offset="1.000" stop-color="#eeeeee"/></linearGradient>
<linearGradient id="rb33" gradientUnits="userSpaceOnUse" x1="461.30" y1="0" x2="625.00" y2="0"><stop offset="0.000" stop-color="#efefef"/><stop offset="0.071" stop-color="#f2f2f2"/><stop offset="0.143" stop-color="#f7f7f7"/><stop offset="0.214" stop-color="#f9f9f9"/><stop offset="0.286" stop-color="#fbfbfb"/><stop offset="0.357" stop-color="#fdfdfd"/><stop offset="0.429" stop-color="#fdfdfd"/><stop offset="0.500" stop-color="#fefefe"/><stop offset="0.571" stop-color="#fdfdfd"/><stop offset="0.643" stop-color="#fdfdfd"/><stop offset="0.714" stop-color="#fbfbfb"/><stop offset="0.786" stop-color="#f9f9f9"/><stop offset="0.857" stop-color="#f7f7f7"/><stop offset="0.929" stop-color="#f2f2f2"/><stop offset="1.000" stop-color="#efefef"/></linearGradient>
<linearGradient id="rb34" gradientUnits="userSpaceOnUse" x1="461.30" y1="0" x2="625.00" y2="0"><stop offset="0.000" stop-color="#efefef"/><stop offset="0.071" stop-color="#f2f2f2"/><stop offset="0.143" stop-color="#f7f7f7"/><stop offset="0.214" stop-color="#f9f9f9"/><stop offset="0.286" stop-color="#fbfbfb"/><stop offset="0.357" stop-color="#fcfcfc"/><stop offset="0.429" stop-color="#fdfdfd"/><stop offset="0.500" stop-color="#fdfdfd"/><stop offset="0.571" stop-color="#fdfdfd"/><stop offset="0.643" stop-color="#fcfcfc"/><stop offset="0.714" stop-color="#fbfbfb"/><stop offset="0.786" stop-color="#f9f9f9"/><stop offset="0.857" stop-color="#f7f7f7"/><stop offset="0.929" stop-color="#f2f2f2"/><stop offset="1.000" stop-color="#efefef"/></linearGradient>
<linearGradient id="rb35" gradientUnits="userSpaceOnUse" x1="461.30" y1="0" x2="625.00" y2="0"><stop offset="0.000" stop-color="#efefef"/><stop offset="0.071" stop-color="#f2f2f2"/><stop offset="0.143" stop-color="#f6f6f6"/><stop offset="0.214" stop-color="#f9f9f9"/><stop offset="0.286" stop-color="#fbfbfb"/><stop offset="0.357" stop-color="#fcfcfc"/><stop offset="0.429" stop-color="#fdfdfd"/><stop offset="0.500" stop-color="#fdfdfd"/><stop offset="0.571" stop-color="#fdfdfd"/><stop offset="0.643" stop-color="#fcfcfc"/><stop offset="0.714" stop-color="#fbfbfb"/><stop offset="0.786" stop-color="#f9f9f9"/><stop offset="0.857" stop-color="#f6f6f6"/><stop offset="0.929" stop-color="#f2f2f2"/><stop offset="1.000" stop-color="#efefef"/></linearGradient>
<linearGradient id="rb36" gradientUnits="userSpaceOnUse" x1="461.30" y1="0" x2="625.00" y2="0"><stop offset="0.000" stop-color="#efefef"/><stop offset="0.071" stop-color="#f1f1f1"/><stop offset="0.143" stop-color="#f6f6f6"/><stop offset="0.214" stop-color="#f8f8f8"/><stop offset="0.286" stop-color="#fafafa"/><stop offset="0.357" stop-color="#fbfbfb"/><stop offset="0.429" stop-color="#fcfcfc"/><stop offset="0.500" stop-color="#fcfcfc"/><stop offset="0.571" stop-color="#fcfcfc"/><stop offset="0.643" stop-color="#fbfbfb"/><stop offset="0.714" stop-color="#fafafa"/><stop offset="0.786" stop-color="#f8f8f8"/><stop offset="0.857" stop-color="#f6f6f6"/><stop offset="0.929" stop-color="#f1f1f1"/><stop offset="1.000" stop-color="#efefef"/></linearGradient>
<linearGradient id="rb37" gradientUnits="userSpaceOnUse" x1="461.30" y1="0" x2="625.00" y2="0"><stop offset="0.000" stop-color="#efefef"/><stop offset="0.071" stop-color="#f1f1f1"/><stop offset="0.143" stop-color="#f4f4f4"/><stop offset="0.214" stop-color="#f7f7f7"/><stop offset="0.286" stop-color="#f9f9f9"/><stop offset="0.357" stop-color="#fafafa"/><stop offset="0.429" stop-color="#fbfbfb"/><stop offset="0.500" stop-color="#fbfbfb"/><stop offset="0.571" stop-color="#fbfbfb"/><stop offset="0.643" stop-color="#fafafa"/><stop offset="0.714" stop-color="#f9f9f9"/><stop offset="0.786" stop-color="#f7f7f7"/><stop offset="0.857" stop-color="#f4f4f4"/><stop offset="0.929" stop-color="#f1f1f1"/><stop offset="1.000" stop-color="#efefef"/></linearGradient>
<linearGradient id="rb38" gradientUnits="userSpaceOnUse" x1="461.30" y1="0" x2="625.00" y2="0"><stop offset="0.000" stop-color="#eeeeee"/><stop offset="0.071" stop-color="#f0f0f0"/><stop offset="0.143" stop-color="#f3f3f3"/><stop offset="0.214" stop-color="#f6f6f6"/><stop offset="0.286" stop-color="#f8f8f8"/><stop offset="0.357" stop-color="#f9f9f9"/><stop offset="0.429" stop-color="#fafafa"/><stop offset="0.500" stop-color="#fafafa"/><stop offset="0.571" stop-color="#fafafa"/><stop offset="0.643" stop-color="#f9f9f9"/><stop offset="0.714" stop-color="#f8f8f8"/><stop offset="0.786" stop-color="#f6f6f6"/><stop offset="0.857" stop-color="#f3f3f3"/><stop offset="0.929" stop-color="#f0f0f0"/><stop offset="1.000" stop-color="#eeeeee"/></linearGradient>
<linearGradient id="rb39" gradientUnits="userSpaceOnUse" x1="461.30" y1="0" x2="625.00" y2="0"><stop offset="0.000" stop-color="#ededed"/><stop offset="0.071" stop-color="#efefef"/><stop offset="0.143" stop-color="#f2f2f2"/><stop offset="0.214" stop-color="#f4f4f4"/><stop offset="0.286" stop-color="#f6f6f6"/><stop offset="0.357" stop-color="#f8f8f8"/><stop offset="0.429" stop-color="#f8f8f8"/><stop offset="0.500" stop-color="#f9f9f9"/><stop offset="0.571" stop-color="#f8f8f8"/><stop offset="0.643" stop-color="#f8f8f8"/><stop offset="0.714" stop-color="#f6f6f6"/><stop offset="0.786" stop-color="#f4f4f4"/><stop offset="0.857" stop-color="#f2f2f2"/><stop offset="0.929" stop-color="#efefef"/><stop offset="1.000" stop-color="#ededed"/></linearGradient>
<linearGradient id="rb40" gradientUnits="userSpaceOnUse" x1="461.30" y1="0" x2="625.00" y2="0"><stop offset="0.000" stop-color="#ebebeb"/><stop offset="0.071" stop-color="#ececec"/><stop offset="0.143" stop-color="#f0f0f0"/><stop offset="0.214" stop-color="#f3f3f3"/><stop offset="0.286" stop-color="#f5f5f5"/><stop offset="0.357" stop-color="#f6f6f6"/><stop offset="0.429" stop-color="#f7f7f7"/><stop offset="0.500" stop-color="#f7f7f7"/><stop offset="0.571" stop-color="#f7f7f7"/><stop offset="0.643" stop-color="#f6f6f6"/><stop offset="0.714" stop-color="#f5f5f5"/><stop offset="0.786" stop-color="#f3f3f3"/><stop offset="0.857" stop-color="#f0f0f0"/><stop offset="0.929" stop-color="#ececec"/><stop offset="1.000" stop-color="#ebebeb"/></linearGradient>
<linearGradient id="rb41" gradientUnits="userSpaceOnUse" x1="461.30" y1="0" x2="625.00" y2="0"><stop offset="0.000" stop-color="#e7e7e7"/><stop offset="0.071" stop-color="#e9e9e9"/><stop offset="0.143" stop-color="#ececec"/><stop offset="0.214" stop-color="#efefef"/><stop offset="0.286" stop-color="#f1f1f1"/><stop offset="0.357" stop-color="#f2f2f2"/><stop offset="0.429" stop-color="#f3f3f3"/><stop offset="0.500" stop-color="#f3f3f3"/><stop offset="0.571" stop-color="#f3f3f3"/><stop offset="0.643" stop-color="#f2f2f2"/><stop offset="0.714" stop-color="#f1f1f1"/><stop offset="0.786" stop-color="#efefef"/><stop offset="0.857" stop-color="#ececec"/><stop offset="0.929" stop-color="#e9e9e9"/><stop offset="1.000" stop-color="#e7e7e7"/></linearGradient>
<linearGradient id="rb42" gradientUnits="userSpaceOnUse" x1="461.30" y1="0" x2="625.00" y2="0"><stop offset="0.000" stop-color="#e3e3e3"/><stop offset="0.071" stop-color="#e5e5e5"/><stop offset="0.143" stop-color="#e8e8e8"/><stop offset="0.214" stop-color="#ebebeb"/><stop offset="0.286" stop-color="#ededed"/><stop offset="0.357" stop-color="#eeeeee"/><stop offset="0.429" stop-color="#efefef"/><stop offset="0.500" stop-color="#efefef"/><stop offset="0.571" stop-color="#efefef"/><stop offset="0.643" stop-color="#eeeeee"/><stop offset="0.714" stop-color="#ededed"/><stop offset="0.786" stop-color="#ebebeb"/><stop offset="0.857" stop-color="#e8e8e8"/><stop offset="0.929" stop-color="#e5e5e5"/><stop offset="1.000" stop-color="#e3e3e3"/></linearGradient>
<linearGradient id="rb43" gradientUnits="userSpaceOnUse" x1="461.30" y1="0" x2="625.00" y2="0"><stop offset="0.000" stop-color="#dfdfdf"/><stop offset="0.071" stop-color="#e1e1e1"/><stop offset="0.143" stop-color="#e4e4e4"/><stop offset="0.214" stop-color="#e7e7e7"/><stop offset="0.286" stop-color="#e9e9e9"/><stop offset="0.357" stop-color="#eaeaea"/><stop offset="0.429" stop-color="#ebebeb"/><stop offset="0.500" stop-color="#ebebeb"/><stop offset="0.571" stop-color="#ebebeb"/><stop offset="0.643" stop-color="#eaeaea"/><stop offset="0.714" stop-color="#e9e9e9"/><stop offset="0.786" stop-color="#e7e7e7"/><stop offset="0.857" stop-color="#e4e4e4"/><stop offset="0.929" stop-color="#e1e1e1"/><stop offset="1.000" stop-color="#dfdfdf"/></linearGradient>
<linearGradient id="rb44" gradientUnits="userSpaceOnUse" x1="461.30" y1="0" x2="625.00" y2="0"><stop offset="0.000" stop-color="#dbdbdb"/><stop offset="0.071" stop-color="#dcdcdc"/><stop offset="0.143" stop-color="#e0e0e0"/><stop offset="0.214" stop-color="#e2e2e2"/><stop offset="0.286" stop-color="#e4e4e4"/><stop offset="0.357" stop-color="#e6e6e6"/><stop offset="0.429" stop-color="#e6e6e6"/><stop offset="0.500" stop-color="#e7e7e7"/><stop offset="0.571" stop-color="#e6e6e6"/><stop offset="0.643" stop-color="#e6e6e6"/><stop offset="0.714" stop-color="#e4e4e4"/><stop offset="0.786" stop-color="#e2e2e2"/><stop offset="0.857" stop-color="#e0e0e0"/><stop offset="0.929" stop-color="#dcdcdc"/><stop offset="1.000" stop-color="#dbdbdb"/></linearGradient>
<linearGradient id="rb45" gradientUnits="userSpaceOnUse" x1="461.30" y1="0" x2="625.00" y2="0"><stop offset="0.000" stop-color="#d6d6d6"/><stop offset="0.071" stop-color="#d7d7d7"/><stop offset="0.143" stop-color="#dbdbdb"/><stop offset="0.214" stop-color="#dddddd"/><stop offset="0.286" stop-color="#dfdfdf"/><stop offset="0.357" stop-color="#e1e1e1"/><stop offset="0.429" stop-color="#e2e2e2"/><stop offset="0.500" stop-color="#e2e2e2"/><stop offset="0.571" stop-color="#e2e2e2"/><stop offset="0.643" stop-color="#e1e1e1"/><stop offset="0.714" stop-color="#dfdfdf"/><stop offset="0.786" stop-color="#dddddd"/><stop offset="0.857" stop-color="#dbdbdb"/><stop offset="0.929" stop-color="#d7d7d7"/><stop offset="1.000" stop-color="#d6d6d6"/></linearGradient>
<linearGradient id="rb46" gradientUnits="userSpaceOnUse" x1="461.30" y1="0" x2="625.00" y2="0"><stop offset="0.000" stop-color="#d1d1d1"/><stop offset="0.071" stop-color="#d2d2d2"/><stop offset="0.143" stop-color="#d5d5d5"/><stop offset="0.214" stop-color="#d8d8d8"/><stop offset="0.286" stop-color="#dadada"/><stop offset="0.357" stop-color="#dbdbdb"/><stop offset="0.429" stop-color="#dcdcdc"/><stop offset="0.500" stop-color="#dcdcdc"/><stop offset="0.571" stop-color="#dcdcdc"/><stop offset="0.643" stop-color="#dbdbdb"/><stop offset="0.714" stop-color="#dadada"/><stop offset="0.786" stop-color="#d8d8d8"/><stop offset="0.857" stop-color="#d5d5d5"/><stop offset="0.929" stop-color="#d2d2d2"/><stop offset="1.000" stop-color="#d1d1d1"/></linearGradient>
<linearGradient id="rb47" gradientUnits="userSpaceOnUse" x1="461.30" y1="0" x2="625.00" y2="0"><stop offset="0.000" stop-color="#cbcbcb"/><stop offset="0.071" stop-color="#cccccc"/><stop offset="0.143" stop-color="#d0d0d0"/><stop offset="0.214" stop-color="#d2d2d2"/><stop offset="0.286" stop-color="#d4d4d4"/><stop offset="0.357" stop-color="#d6d6d6"/><stop offset="0.429" stop-color="#d6d6d6"/><stop offset="0.500" stop-color="#d7d7d7"/><stop offset="0.571" stop-color="#d6d6d6"/><stop offset="0.643" stop-color="#d6d6d6"/><stop offset="0.714" stop-color="#d4d4d4"/><stop offset="0.786" stop-color="#d2d2d2"/><stop offset="0.857" stop-color="#d0d0d0"/><stop offset="0.929" stop-color="#cccccc"/><stop offset="1.000" stop-color="#cbcbcb"/></linearGradient>
<linearGradient id="rb48" gradientUnits="userSpaceOnUse" x1="461.30" y1="0" x2="625.00" y2="0"><stop offset="0.000" stop-color="#c6c6c6"/><stop offset="0.071" stop-color="#c7c7c7"/><stop offset="0.143" stop-color="#cacaca"/><stop offset="0.214" stop-color="#cdcdcd"/><stop offset="0.286" stop-color="#cfcfcf"/><stop offset="0.357" stop-color="#d0d0d0"/><stop offset="0.429" stop-color="#d1d1d1"/><stop offset="0.500" stop-color="#d1d1d1"/><stop offset="0.571" stop-color="#d1d1d1"/><stop offset="0.643" stop-color="#d0d0d0"/><stop offset="0.714" stop-color="#cfcfcf"/><stop offset="0.786" stop-color="#cdcdcd"/><stop offset="0.857" stop-color="#cacaca"/><stop offset="0.929" stop-color="#c7c7c7"/><stop offset="1.000" stop-color="#c6c6c6"/></linearGradient>
<linearGradient id="rb49" gradientUnits="userSpaceOnUse" x1="461.30" y1="0" x2="625.00" y2="0"><stop offset="0.000" stop-color="#c0c0c0"/><stop offset="0.071" stop-color="#c1c1c1"/><stop offset="0.143" stop-color="#c4c4c4"/><stop offset="0.214" stop-color="#c7c7c7"/><stop offset="0.286" stop-color="#c9c9c9"/><stop offset="0.357" stop-color="#cacaca"/><stop offset="0.429" stop-color="#cbcbcb"/><stop offset="0.500" stop-color="#cbcbcb"/><stop offset="0.571" stop-color="#cbcbcb"/><stop offset="0.643" stop-color="#cacaca"/><stop offset="0.714" stop-color="#c9c9c9"/><stop offset="0.786" stop-color="#c7c7c7"/><stop offset="0.857" stop-color="#c4c4c4"/><stop offset="0.929" stop-color="#c1c1c1"/><stop offset="1.000" stop-color="#c0c0c0"/></linearGradient>
<linearGradient id="rb50" gradientUnits="userSpaceOnUse" x1="461.30" y1="0" x2="625.00" y2="0"><stop offset="0.000" stop-color="#b8b8b8"/><stop offset="0.071" stop-color="#b9b9b9"/><stop offset="0.143" stop-color="#bcbcbc"/><stop offset="0.214" stop-color="#bfbfbf"/><stop offset="0.286" stop-color="#c1c1c1"/><stop offset="0.357" stop-color="#c2c2c2"/><stop offset="0.429" stop-color="#c3c3c3"/><stop offset="0.500" stop-color="#c4c4c4"/><stop offset="0.571" stop-color="#c3c3c3"/><stop offset="0.643" stop-color="#c2c2c2"/><stop offset="0.714" stop-color="#c1c1c1"/><stop offset="0.786" stop-color="#bfbfbf"/><stop offset="0.857" stop-color="#bcbcbc"/><stop offset="0.929" stop-color="#b9b9b9"/><stop offset="1.000" stop-color="#b8b8b8"/></linearGradient>
<linearGradient id="rb51" gradientUnits="userSpaceOnUse" x1="461.30" y1="0" x2="625.00" y2="0"><stop offset="0.000" stop-color="#b0b0b0"/><stop offset="0.071" stop-color="#b1b1b1"/><stop offset="0.143" stop-color="#b5b5b5"/><stop offset="0.214" stop-color="#b7b7b7"/><stop offset="0.286" stop-color="#b9b9b9"/><stop offset="0.357" stop-color="#bbbbbb"/><stop offset="0.429" stop-color="#bbbbbb"/><stop offset="0.500" stop-color="#bcbcbc"/><stop offset="0.571" stop-color="#bbbbbb"/><stop offset="0.643" stop-color="#bbbbbb"/><stop offset="0.714" stop-color="#b9b9b9"/><stop offset="0.786" stop-color="#b7b7b7"/><stop offset="0.857" stop-color="#b5b5b5"/><stop offset="0.929" stop-color="#b1b1b1"/><stop offset="1.000" stop-color="#b0b0b0"/></linearGradient>
<linearGradient id="rb52" gradientUnits="userSpaceOnUse" x1="461.30" y1="0" x2="625.00" y2="0"><stop offset="0.000" stop-color="#a8a8a8"/><stop offset="0.071" stop-color="#aaaaaa"/><stop offset="0.143" stop-color="#adadad"/><stop offset="0.214" stop-color="#afafaf"/><stop offset="0.286" stop-color="#b1b1b1"/><stop offset="0.357" stop-color="#b3b3b3"/><stop offset="0.429" stop-color="#b4b4b4"/><stop offset="0.500" stop-color="#b4b4b4"/><stop offset="0.571" stop-color="#b4b4b4"/><stop offset="0.643" stop-color="#b3b3b3"/><stop offset="0.714" stop-color="#b1b1b1"/><stop offset="0.786" stop-color="#afafaf"/><stop offset="0.857" stop-color="#adadad"/><stop offset="0.929" stop-color="#aaaaaa"/><stop offset="1.000" stop-color="#a8a8a8"/></linearGradient>
<linearGradient id="rb53" gradientUnits="userSpaceOnUse" x1="461.30" y1="0" x2="625.00" y2="0"><stop offset="0.000" stop-color="#a1a1a1"/><stop offset="0.071" stop-color="#a2a2a2"/><stop offset="0.143" stop-color="#a5a5a5"/><stop offset="0.214" stop-color="#a8a8a8"/><stop offset="0.286" stop-color="#a9a9a9"/><stop offset="0.357" stop-color="#ababab"/><stop offset="0.429" stop-color="#acacac"/><stop offset="0.500" stop-color="#acacac"/><stop offset="0.571" stop-color="#acacac"/><stop offset="0.643" stop-color="#ababab"/><stop offset="0.714" stop-color="#a9a9a9"/><stop offset="0.786" stop-color="#a8a8a8"/><stop offset="0.857" stop-color="#a5a5a5"/><stop offset="0.929" stop-color="#a2a2a2"/><stop offset="1.000" stop-color="#a1a1a1"/></linearGradient>
<linearGradient id="rb54" gradientUnits="userSpaceOnUse" x1="461.30" y1="0" x2="625.00" y2="0"><stop offset="0.000" stop-color="#989898"/><stop offset="0.071" stop-color="#999999"/><stop offset="0.143" stop-color="#9c9c9c"/><stop offset="0.214" stop-color="#9f9f9f"/><stop offset="0.286" stop-color="#a1a1a1"/><stop offset="0.357" stop-color="#a2a2a2"/><stop offset="0.429" stop-color="#a3a3a3"/><stop offset="0.500" stop-color="#a3a3a3"/><stop offset="0.571" stop-color="#a3a3a3"/><stop offset="0.643" stop-color="#a2a2a2"/><stop offset="0.714" stop-color="#a1a1a1"/><stop offset="0.786" stop-color="#9f9f9f"/><stop offset="0.857" stop-color="#9c9c9c"/><stop offset="0.929" stop-color="#999999"/><stop offset="1.000" stop-color="#989898"/></linearGradient>
<linearGradient id="rb55" gradientUnits="userSpaceOnUse" x1="461.30" y1="0" x2="625.00" y2="0"><stop offset="0.000" stop-color="#8e8e8e"/><stop offset="0.071" stop-color="#909090"/><stop offset="0.143" stop-color="#939393"/><stop offset="0.214" stop-color="#959595"/><stop offset="0.286" stop-color="#979797"/><stop offset="0.357" stop-color="#999999"/><stop offset="0.429" stop-color="#9a9a9a"/><stop offset="0.500" stop-color="#9a9a9a"/><stop offset="0.571" stop-color="#9a9a9a"/><stop offset="0.643" stop-color="#999999"/><stop offset="0.714" stop-color="#979797"/><stop offset="0.786" stop-color="#959595"/><stop offset="0.857" stop-color="#939393"/><stop offset="0.929" stop-color="#909090"/><stop offset="1.000" stop-color="#8e8e8e"/></linearGradient>
<linearGradient id="rb56" gradientUnits="userSpaceOnUse" x1="461.30" y1="0" x2="625.00" y2="0"><stop offset="0.000" stop-color="#858585"/><stop offset="0.071" stop-color="#868686"/><stop offset="0.143" stop-color="#898989"/><stop offset="0.214" stop-color="#8c8c8c"/><stop offset="0.286" stop-color="#8e8e8e"/><stop offset="0.357" stop-color="#8f8f8f"/><stop offset="0.429" stop-color="#909090"/><stop offset="0.500" stop-color="#909090"/><stop offset="0.571" stop-color="#909090"/><stop offset="0.643" stop-color="#8f8f8f"/><stop offset="0.714" stop-color="#8e8e8e"/><stop offset="0.786" stop-color="#8c8c8c"/><stop offset="0.857" stop-color="#898989"/><stop offset="0.929" stop-color="#868686"/><stop offset="1.000" stop-color="#858585"/></linearGradient>
<linearGradient id="rb57" gradientUnits="userSpaceOnUse" x1="461.30" y1="0" x2="625.00" y2="0"><stop offset="0.000" stop-color="#7c7c7c"/><stop offset="0.071" stop-color="#7d7d7d"/><stop offset="0.143" stop-color="#808080"/><stop offset="0.214" stop-color="#828282"/><stop offset="0.286" stop-color="#848484"/><stop offset="0.357" stop-color="#868686"/><stop offset="0.429" stop-color="#878787"/><stop offset="0.500" stop-color="#878787"/><stop offset="0.571" stop-color="#878787"/><stop offset="0.643" stop-color="#868686"/><stop offset="0.714" stop-color="#848484"/><stop offset="0.786" stop-color="#828282"/><stop offset="0.857" stop-color="#808080"/><stop offset="0.929" stop-color="#7d7d7d"/><stop offset="1.000" stop-color="#7c7c7c"/></linearGradient>
<linearGradient id="rb58" gradientUnits="userSpaceOnUse" x1="461.30" y1="0" x2="625.00" y2="0"><stop offset="0.000" stop-color="#737373"/><stop offset="0.071" stop-color="#747474"/><stop offset="0.143" stop-color="#777777"/><stop offset="0.214" stop-color="#797979"/><stop offset="0.286" stop-color="#7b7b7b"/><stop offset="0.357" stop-color="#7d7d7d"/><stop offset="0.429" stop-color="#7e7e7e"/><stop offset="0.500" stop-color="#7e7e7e"/><stop offset="0.571" stop-color="#7e7e7e"/><stop offset="0.643" stop-color="#7d7d7d"/><stop offset="0.714" stop-color="#7b7b7b"/><stop offset="0.786" stop-color="#797979"/><stop offset="0.857" stop-color="#777777"/><stop offset="0.929" stop-color="#747474"/><stop offset="1.000" stop-color="#737373"/></linearGradient>
<linearGradient id="rb59" gradientUnits="userSpaceOnUse" x1="461.30" y1="0" x2="625.00" y2="0"><stop offset="0.000" stop-color="#6c6c6c"/><stop offset="0.071" stop-color="#6d6d6d"/><stop offset="0.143" stop-color="#707070"/><stop offset="0.214" stop-color="#727272"/><stop offset="0.286" stop-color="#747474"/><stop offset="0.357" stop-color="#757575"/><stop offset="0.429" stop-color="#767676"/><stop offset="0.500" stop-color="#777777"/><stop offset="0.571" stop-color="#767676"/><stop offset="0.643" stop-color="#757575"/><stop offset="0.714" stop-color="#747474"/><stop offset="0.786" stop-color="#727272"/><stop offset="0.857" stop-color="#707070"/><stop offset="0.929" stop-color="#6d6d6d"/><stop offset="1.000" stop-color="#6c6c6c"/></linearGradient>
<linearGradient id="rb60" gradientUnits="userSpaceOnUse" x1="461.30" y1="0" x2="625.00" y2="0"><stop offset="0.000" stop-color="#646464"/><stop offset="0.071" stop-color="#656565"/><stop offset="0.143" stop-color="#696969"/><stop offset="0.214" stop-color="#6b6b6b"/><stop offset="0.286" stop-color="#6d6d6d"/><stop offset="0.357" stop-color="#6e6e6e"/><stop offset="0.429" stop-color="#6f6f6f"/><stop offset="0.500" stop-color="#6f6f6f"/><stop offset="0.571" stop-color="#6f6f6f"/><stop offset="0.643" stop-color="#6e6e6e"/><stop offset="0.714" stop-color="#6d6d6d"/><stop offset="0.786" stop-color="#6b6b6b"/><stop offset="0.857" stop-color="#696969"/><stop offset="0.929" stop-color="#656565"/><stop offset="1.000" stop-color="#646464"/></linearGradient>
<linearGradient id="rb61" gradientUnits="userSpaceOnUse" x1="461.30" y1="0" x2="625.00" y2="0"><stop offset="0.000" stop-color="#5d5d5d"/><stop offset="0.071" stop-color="#5e5e5e"/><stop offset="0.143" stop-color="#616161"/><stop offset="0.214" stop-color="#646464"/><stop offset="0.286" stop-color="#666666"/><stop offset="0.357" stop-color="#676767"/><stop offset="0.429" stop-color="#686868"/><stop offset="0.500" stop-color="#686868"/><stop offset="0.571" stop-color="#686868"/><stop offset="0.643" stop-color="#676767"/><stop offset="0.714" stop-color="#666666"/><stop offset="0.786" stop-color="#646464"/><stop offset="0.857" stop-color="#616161"/><stop offset="0.929" stop-color="#5e5e5e"/><stop offset="1.000" stop-color="#5d5d5d"/></linearGradient>
<linearGradient id="rb62" gradientUnits="userSpaceOnUse" x1="461.30" y1="0" x2="625.00" y2="0"><stop offset="0.000" stop-color="#565656"/><stop offset="0.071" stop-color="#575757"/><stop offset="0.143" stop-color="#5a5a5a"/><stop offset="0.214" stop-color="#5c5c5c"/><stop offset="0.286" stop-color="#5e5e5e"/><stop offset="0.357" stop-color="#606060"/><stop offset="0.429" stop-color="#606060"/><stop offset="0.500" stop-color="#616161"/><stop offset="0.571" stop-color="#606060"/><stop offset="0.643" stop-color="#606060"/><stop offset="0.714" stop-color="#5e5e5e"/><stop offset="0.786" stop-color="#5c5c5c"/><stop offset="0.857" stop-color="#5a5a5a"/><stop offset="0.929" stop-color="#575757"/><stop offset="1.000" stop-color="#565656"/></linearGradient>
<linearGradient id="rb63" gradientUnits="userSpaceOnUse" x1="461.30" y1="0" x2="625.00" y2="0"><stop offset="0.000" stop-color="#4e4e4e"/><stop offset="0.071" stop-color="#4f4f4f"/><stop offset="0.143" stop-color="#525252"/><stop offset="0.214" stop-color="#555555"/><stop offset="0.286" stop-color="#575757"/><stop offset="0.357" stop-color="#585858"/><stop offset="0.429" stop-color="#595959"/><stop offset="0.500" stop-color="#595959"/><stop offset="0.571" stop-color="#595959"/><stop offset="0.643" stop-color="#585858"/><stop offset="0.714" stop-color="#575757"/><stop offset="0.786" stop-color="#555555"/><stop offset="0.857" stop-color="#525252"/><stop offset="0.929" stop-color="#4f4f4f"/><stop offset="1.000" stop-color="#4e4e4e"/></linearGradient>
<linearGradient id="rb64" gradientUnits="userSpaceOnUse" x1="461.30" y1="0" x2="625.00" y2="0"><stop offset="0.000" stop-color="#464646"/><stop offset="0.071" stop-color="#474747"/><stop offset="0.143" stop-color="#4a4a4a"/><stop offset="0.214" stop-color="#4d4d4d"/><stop offset="0.286" stop-color="#4f4f4f"/><stop offset="0.357" stop-color="#505050"/><stop offset="0.429" stop-color="#515151"/><stop offset="0.500" stop-color="#515151"/><stop offset="0.571" stop-color="#515151"/><stop offset="0.643" stop-color="#505050"/><stop offset="0.714" stop-color="#4f4f4f"/><stop offset="0.786" stop-color="#4d4d4d"/><stop offset="0.857" stop-color="#4a4a4a"/><stop offset="0.929" stop-color="#474747"/><stop offset="1.000" stop-color="#464646"/></linearGradient>
<linearGradient id="rb65" gradientUnits="userSpaceOnUse" x1="461.30" y1="0" x2="625.00" y2="0"><stop offset="0.000" stop-color="#3f3f3f"/><stop offset="0.071" stop-color="#404040"/><stop offset="0.143" stop-color="#434343"/><stop offset="0.214" stop-color="#454545"/><stop offset="0.286" stop-color="#474747"/><stop offset="0.357" stop-color="#484848"/><stop offset="0.429" stop-color="#494949"/><stop offset="0.500" stop-color="#494949"/><stop offset="0.571" stop-color="#494949"/><stop offset="0.643" stop-color="#484848"/><stop offset="0.714" stop-color="#474747"/><stop offset="0.786" stop-color="#454545"/><stop offset="0.857" stop-color="#434343"/><stop offset="0.929" stop-color="#404040"/><stop offset="1.000" stop-color="#3f3f3f"/></linearGradient>
<linearGradient id="rb66" gradientUnits="userSpaceOnUse" x1="461.30" y1="0" x2="625.00" y2="0"><stop offset="0.000" stop-color="#373737"/><stop offset="0.071" stop-color="#383838"/><stop offset="0.143" stop-color="#3b3b3b"/><stop offset="0.214" stop-color="#3d3d3d"/><stop offset="0.286" stop-color="#3f3f3f"/><stop offset="0.357" stop-color="#404040"/><stop offset="0.429" stop-color="#414141"/><stop offset="0.500" stop-color="#424242"/><stop offset="0.571" stop-color="#414141"/><stop offset="0.643" stop-color="#404040"/><stop offset="0.714" stop-color="#3f3f3f"/><stop offset="0.786" stop-color="#3d3d3d"/><stop offset="0.857" stop-color="#3b3b3b"/><stop offset="0.929" stop-color="#383838"/><stop offset="1.000" stop-color="#373737"/></linearGradient>
<linearGradient id="rb67" gradientUnits="userSpaceOnUse" x1="461.30" y1="0" x2="625.00" y2="0"><stop offset="0.000" stop-color="#2d2d2d"/><stop offset="0.071" stop-color="#2e2e2e"/><stop offset="0.143" stop-color="#313131"/><stop offset="0.214" stop-color="#333333"/><stop offset="0.286" stop-color="#353535"/><stop offset="0.357" stop-color="#373737"/><stop offset="0.429" stop-color="#383838"/><stop offset="0.500" stop-color="#383838"/><stop offset="0.571" stop-color="#383838"/><stop offset="0.643" stop-color="#373737"/><stop offset="0.714" stop-color="#353535"/><stop offset="0.786" stop-color="#333333"/><stop offset="0.857" stop-color="#313131"/><stop offset="0.929" stop-color="#2e2e2e"/><stop offset="1.000" stop-color="#2d2d2d"/></linearGradient>
<linearGradient id="rb68" gradientUnits="userSpaceOnUse" x1="461.30" y1="0" x2="625.00" y2="0"><stop offset="0.000" stop-color="#232323"/><stop offset="0.071" stop-color="#242424"/><stop offset="0.143" stop-color="#272727"/><stop offset="0.214" stop-color="#2a2a2a"/><stop offset="0.286" stop-color="#2c2c2c"/><stop offset="0.357" stop-color="#2d2d2d"/><stop offset="0.429" stop-color="#2e2e2e"/><stop offset="0.500" stop-color="#2e2e2e"/><stop offset="0.571" stop-color="#2e2e2e"/><stop offset="0.643" stop-color="#2d2d2d"/><stop offset="0.714" stop-color="#2c2c2c"/><stop offset="0.786" stop-color="#2a2a2a"/><stop offset="0.857" stop-color="#272727"/><stop offset="0.929" stop-color="#242424"/><stop offset="1.000" stop-color="#232323"/></linearGradient>
<linearGradient id="rb69" gradientUnits="userSpaceOnUse" x1="461.30" y1="0" x2="625.00" y2="0"><stop offset="0.000" stop-color="#1a1a1a"/><stop offset="0.071" stop-color="#1b1b1b"/><stop offset="0.143" stop-color="#1e1e1e"/><stop offset="0.214" stop-color="#202020"/><stop offset="0.286" stop-color="#222222"/><stop offset="0.357" stop-color="#232323"/><stop offset="0.429" stop-color="#242424"/><stop offset="0.500" stop-color="#242424"/><stop offset="0.571" stop-color="#242424"/><stop offset="0.643" stop-color="#232323"/><stop offset="0.714" stop-color="#222222"/><stop offset="0.786" stop-color="#202020"/><stop offset="0.857" stop-color="#1e1e1e"/><stop offset="0.929" stop-color="#1b1b1b"/><stop offset="1.000" stop-color="#1a1a1a"/></linearGradient>
<linearGradient id="rb70" gradientUnits="userSpaceOnUse" x1="461.30" y1="0" x2="625.00" y2="0"><stop offset="0.000" stop-color="#101010"/><stop offset="0.071" stop-color="#111111"/><stop offset="0.143" stop-color="#141414"/><stop offset="0.214" stop-color="#171717"/><stop offset="0.286" stop-color="#191919"/><stop offset="0.357" stop-color="#1a1a1a"/><stop offset="0.429" stop-color="#1b1b1b"/><stop offset="0.500" stop-color="#1b1b1b"/><stop offset="0.571" stop-color="#1b1b1b"/><stop offset="0.643" stop-color="#1a1a1a"/><stop offset="0.714" stop-color="#191919"/><stop offset="0.786" stop-color="#171717"/><stop offset="0.857" stop-color="#141414"/><stop offset="0.929" stop-color="#111111"/><stop offset="1.000" stop-color="#101010"/></linearGradient>
<linearGradient id="rb71" gradientUnits="userSpaceOnUse" x1="461.30" y1="0" x2="625.00" y2="0"><stop offset="0.000" stop-color="#070707"/><stop offset="0.071" stop-color="#080808"/><stop offset="0.143" stop-color="#0b0b0b"/><stop offset="0.214" stop-color="#0e0e0e"/><stop offset="0.286" stop-color="#0f0f0f"/><stop offset="0.357" stop-color="#111111"/><stop offset="0.429" stop-color="#121212"/><stop offset="0.500" stop-color="#121212"/><stop offset="0.571" stop-color="#121212"/><stop offset="0.643" stop-color="#111111"/><stop offset="0.714" stop-color="#0f0f0f"/><stop offset="0.786" stop-color="#0e0e0e"/><stop offset="0.857" stop-color="#0b0b0b"/><stop offset="0.929" stop-color="#080808"/><stop offset="1.000" stop-color="#070707"/></linearGradient>
<linearGradient id="rb72" gradientUnits="userSpaceOnUse" x1="461.30" y1="0" x2="625.00" y2="0"><stop offset="0.000" stop-color="#000000"/><stop offset="0.071" stop-color="#000000"/><stop offset="0.143" stop-color="#020202"/><stop offset="0.214" stop-color="#050505"/><stop offset="0.286" stop-color="#060606"/><stop offset="0.357" stop-color="#080808"/><stop offset="0.429" stop-color="#090909"/><stop offset="0.500" stop-color="#090909"/><stop offset="0.571" stop-color="#090909"/><stop offset="0.643" stop-color="#080808"/><stop offset="0.714" stop-color="#060606"/><stop offset="0.786" stop-color="#050505"/><stop offset="0.857" stop-color="#020202"/><stop offset="0.929" stop-color="#000000"/><stop offset="1.000" stop-color="#000000"/></linearGradient>
<linearGradient id="rb73" gradientUnits="userSpaceOnUse" x1="461.30" y1="0" x2="625.00" y2="0"><stop offset="0.000" stop-color="#000000"/><stop offset="0.071" stop-color="#000000"/><stop offset="0.143" stop-color="#000000"/><stop offset="0.214" stop-color="#000000"/><stop offset="0.286" stop-color="#020202"/><stop offset="0.357" stop-color="#030303"/><stop offset="0.429" stop-color="#040404"/><stop offset="0.500" stop-color="#040404"/><stop offset="0.571" stop-color="#040404"/><stop offset="0.643" stop-color="#030303"/><stop offset="0.714" stop-color="#020202"/><stop offset="0.786" stop-color="#000000"/><stop offset="0.857" stop-color="#000000"/><stop offset="0.929" stop-color="#000000"/><stop offset="1.000" stop-color="#000000"/></linearGradient>
<linearGradient id="rb74" gradientUnits="userSpaceOnUse" x1="461.30" y1="0" x2="625.00" y2="0"><stop offset="0.000" stop-color="#000000"/><stop offset="0.071" stop-color="#000000"/><stop offset="0.143" stop-color="#000000"/><stop offset="0.214" stop-color="#000000"/><stop offset="0.286" stop-color="#000000"/><stop offset="0.357" stop-color="#000000"/><stop offset="0.429" stop-color="#000000"/><stop offset="0.500" stop-color="#000000"/><stop offset="0.571" stop-color="#000000"/><stop offset="0.643" stop-color="#000000"/><stop offset="0.714" stop-color="#000000"/><stop offset="0.786" stop-color="#000000"/><stop offset="0.857" stop-color="#000000"/><stop offset="0.929" stop-color="#000000"/><stop offset="1.000" stop-color="#000000"/></linearGradient>
<linearGradient id="rb75" gradientUnits="userSpaceOnUse" x1="461.30" y1="0" x2="625.00" y2="0"><stop offset="0.000" stop-color="#000000"/><stop offset="0.071" stop-color="#000000"/><stop offset="0.143" stop-color="#000000"/><stop offset="0.214" stop-color="#000000"/><stop offset="0.286" stop-color="#000000"/><stop offset="0.357" stop-color="#000000"/><stop offset="0.429" stop-color="#000000"/><stop offset="0.500" stop-color="#000000"/><stop offset="0.571" stop-color="#000000"/><stop offset="0.643" stop-color="#000000"/><stop offset="0.714" stop-color="#000000"/><stop offset="0.786" stop-color="#000000"/><stop offset="0.857" stop-color="#000000"/><stop offset="0.929" stop-color="#000000"/><stop offset="1.000" stop-color="#000000"/></linearGradient>
<linearGradient id="rb76" gradientUnits="userSpaceOnUse" x1="461.30" y1="0" x2="625.00" y2="0"><stop offset="0.000" stop-color="#000000"/><stop offset="0.071" stop-color="#000000"/><stop offset="0.143" stop-color="#000000"/><stop offset="0.214" stop-color="#000000"/><stop offset="0.286" stop-color="#000000"/><stop offset="0.357" stop-color="#000000"/><stop offset="0.429" stop-color="#000000"/><stop offset="0.500" stop-color="#000000"/><stop offset="0.571" stop-color="#000000"/><stop offset="0.643" stop-color="#000000"/><stop offset="0.714" stop-color="#000000"/><stop offset="0.786" stop-color="#000000"/><stop offset="0.857" stop-color="#000000"/><stop offset="0.929" stop-color="#000000"/><stop offset="1.000" stop-color="#000000"/></linearGradient>
<linearGradient id="rb77" gradientUnits="userSpaceOnUse" x1="461.30" y1="0" x2="625.00" y2="0"><stop offset="0.000" stop-color="#000000"/><stop offset="0.071" stop-color="#000000"/><stop offset="0.143" stop-color="#000000"/><stop offset="0.214" stop-color="#000000"/><stop offset="0.286" stop-color="#000000"/><stop offset="0.357" stop-color="#000000"/><stop offset="0.429" stop-color="#000000"/><stop offset="0.500" stop-color="#000000"/><stop offset="0.571" stop-color="#000000"/><stop offset="0.643" stop-color="#000000"/><stop offset="0.714" stop-color="#000000"/><stop offset="0.786" stop-color="#000000"/><stop offset="0.857" stop-color="#000000"/><stop offset="0.929" stop-color="#000000"/><stop offset="1.000" stop-color="#000000"/></linearGradient>
<linearGradient id="rb78" gradientUnits="userSpaceOnUse" x1="461.30" y1="0" x2="625.00" y2="0"><stop offset="0.000" stop-color="#000000"/><stop offset="0.071" stop-color="#000000"/><stop offset="0.143" stop-color="#000000"/><stop offset="0.214" stop-color="#000000"/><stop offset="0.286" stop-color="#000000"/><stop offset="0.357" stop-color="#000000"/><stop offset="0.429" stop-color="#000000"/><stop offset="0.500" stop-color="#000000"/><stop offset="0.571" stop-color="#000000"/><stop offset="0.643" stop-color="#000000"/><stop offset="0.714" stop-color="#000000"/><stop offset="0.786" stop-color="#000000"/><stop offset="0.857" stop-color="#000000"/><stop offset="0.929" stop-color="#000000"/><stop offset="1.000" stop-color="#000000"/></linearGradient>
<linearGradient id="rb79" gradientUnits="userSpaceOnUse" x1="461.30" y1="0" x2="625.00" y2="0"><stop offset="0.000" stop-color="#000000"/><stop offset="0.071" stop-color="#000000"/><stop offset="0.143" stop-color="#000000"/><stop offset="0.214" stop-color="#000000"/><stop offset="0.286" stop-color="#000000"/><stop offset="0.357" stop-color="#000000"/><stop offset="0.429" stop-color="#000000"/><stop offset="0.500" stop-color="#000000"/><stop offset="0.571" stop-color="#000000"/><stop offset="0.643" stop-color="#000000"/><stop offset="0.714" stop-color="#000000"/><stop offset="0.786" stop-color="#000000"/><stop offset="0.857" stop-color="#000000"/><stop offset="0.929" stop-color="#000000"/><stop offset="1.000" stop-color="#000000"/></linearGradient>
<clipPath id="clb"><rect x="469.30" y="4.60" width="147.70" height="147.20"/></clipPath>
<radialGradient id="gc" gradientUnits="userSpaceOnUse" cx="0" cy="0" r="2.90" gradientTransform="translate(517.2 263.2) scale(82.0 72.0)"><stop offset="0.0000" stop-color="#f9f9f9"/><stop offset="0.0385" stop-color="#f7f7f7"/><stop offset="0.0769" stop-color="#f3f3f3"/><stop offset="0.1154" stop-color="#ececec"/><stop offset="0.1538" stop-color="#e3e3e3"/><stop offset="0.1923" stop-color="#d8d8d8"/><stop offset="0.2308" stop-color="#cccccc"/><stop offset="0.2692" stop-color="#bebebe"/><stop offset="0.3077" stop-color="#afafaf"/><stop offset="0.3462" stop-color="#a0a0a0"/><stop offset="0.3846" stop-color="#919191"/><stop offset="0.4231" stop-color="#828282"/><stop offset="0.4615" stop-color="#747474"/><stop offset="0.5000" stop-color="#676767"/><stop offset="0.5385" stop-color="#5b5b5b"/><stop offset="0.5769" stop-color="#505050"/><stop offset="0.6154" stop-color="#464646"/><stop offset="0.6538" stop-color="#3e3e3e"/><stop offset="0.6923" stop-color="#373737"/><stop offset="0.7308" stop-color="#313131"/><stop offset="0.7692" stop-color="#2b2b2b"/><stop offset="0.8077" stop-color="#272727"/><stop offset="0.8462" stop-color="#242424"/><stop offset="0.8846" stop-color="#212121"/><stop offset="0.9231" stop-color="#1f1f1f"/><stop offset="0.9615" stop-color="#1d1d1d"/><stop offset="1.0000" stop-color="#1c1c1c"/></radialGradient>
</defs>
<g filter="url(#cm)"><rect x="59.00" y="4.70" width="332.70" height="332.20" fill="#000"/><rect x="59.00" y="4.70" width="332.70" height="332.20" fill="url(#ga1)" style="mix-blend-mode:plus-lighter"/><rect x="59.00" y="4.70" width="332.70" height="332.20" fill="url(#ga1b)" style="mix-blend-mode:plus-lighter"/><rect x="59.00" y="4.70" width="332.70" height="332.20" fill="url(#ga2)" style="mix-blend-mode:plus-lighter"/><rect x="59.00" y="4.70" width="332.70" height="332.20" fill="url(#ga3)" style="mix-blend-mode:plus-lighter"/></g>
<g clip-path="url(#clb)"><g filter="url(#cmb)"><rect x="461.30" y="-1.40" width="163.70" height="2.50" fill="url(#rb0)"/><rect x="461.30" y="0.60" width="163.70" height="2.50" fill="url(#rb1)"/><rect x="461.30" y="2.60" width="163.70" height="2.50" fill="url(#rb2)"/><rect x="461.30" y="4.60" width="163.70" height="2.50" fill="url(#rb3)"/><rect x="461.30" y="6.60" width="163.70" height="2.50" fill="url(#rb4)"/><rect x="461.30" y="8.60" width="163.70" height="2.50" fill="url(#rb5)"/><rect x="461.30" y="10.60" width="163.70" height="2.50" fill="url(#rb6)"/><rect x="461.30" y="12.60" width="163.70" height="2.50" fill="url(#rb7)"/><rect x="461.30" y="14.60" width="163.70" height="2.50" fill="url(#rb8)"/><rect x="461.30" y="16.60" width="163.70" height="2.50" fill="url(#rb9)"/><rect x="461.30" y="18.60" width="163.70" height="2.50" fill="url(#rb10)"/><rect x="461.30" y="20.60" width="163.70" height="2.50" fill="url(#rb11)"/><rect x="461.30" y="22.60" width="163.70" height="2.50" fill="url(#rb12)"/><rect x="461.30" y="24.60" width="163.70" height="2.50" fill="url(#rb13)"/><rect x="461.30" y="26.60" width="163.70" height="2.50" fill="url(#rb14)"/><rect x="461.30" y="28.60" width="163.70" height="2.50" fill="url(#rb15)"/><rect x="461.30" y="30.60" width="163.70" height="2.50" fill="url(#rb16)"/><rect x="461.30" y="32.60" width="163.70" height="2.50" fill="url(#rb17)"/><rect x="461.30" y="34.60" width="163.70" height="2.50" fill="url(#rb18)"/><rect x="461.30" y="36.60" width="163.70" height="2.50" fill="url(#rb19)"/><rect x="461.30" y="38.60" width="163.70" height="2.50" fill="url(#rb20)"/><rect x="461.30" y="40.60" width="163.70" height="2.50" fill="url(#rb21)"/><rect x="461.30" y="42.60" width="163.70" height="2.50" fill="url(#rb22)"/><rect x="461.30" y="44.60" width="163.70" height="2.50" fill="url(#rb23)"/><rect x="461.30" y="46.60" width="163.70" height="2.50" fill="url(#rb24)"/><rect x="461.30" y="48.60" width="163.70" height="2.50" fill="url(#rb25)"/><rect x="461.30" y="50.60" width="163.70" height="2.50" fill="url(#rb26)"/><rect x="461.30" y="52.60" width="163.70" height="2.50" fill="url(#rb27)"/><rect x="461.30" y="54.60" width="163.70" height="2.50" fill="url(#rb28)"/><rect x="461.30" y="56.60" width="163.70" height="2.50" fill="url(#rb29)"/><rect x="461.30" y="58.60" width="163.70" height="2.50" fill="url(#rb30)"/><rect x="461.30" y="60.60" width="163.70" height="2.50" fill="url(#rb31)"/><rect x="461.30" y="62.60" width="163.70" height="2.50" fill="url(#rb32)"/><rect x="461.30" y="64.60" width="163.70" height="2.50" fill="url(#rb33)"/><rect x="461.30" y="66.60" width="163.70" height="2.50" fill="url(#rb34)"/><rect x="461.30" y="68.60" width="163.70" height="2.50" fill="url(#rb35)"/><rect x="461.30" y="70.60" width="163.70" height="2.50" fill="url(#rb36)"/><rect x="461.30" y="72.60" width="163.70" height="2.50" fill="url(#rb37)"/><rect x="461.30" y="74.60" width="163.70" height="2.50" fill="url(#rb38)"/><rect x="461.30" y="76.60" width="163.70" height="2.50" fill="url(#rb39)"/><rect x="461.30" y="78.60" width="163.70" height="2.50" fill="url(#rb40)"/><rect x="461.30" y="80.60" width="163.70" height="2.50" fill="url(#rb41)"/><rect x="461.30" y="82.60" width="163.70" height="2.50" fill="url(#rb42)"/><rect x="461.30" y="84.60" width="163.70" height="2.50" fill="url(#rb43)"/><rect x="461.30" y="86.60" width="163.70" height="2.50" fill="url(#rb44)"/><rect x="461.30" y="88.60" width="163.70" height="2.50" fill="url(#rb45)"/><rect x="461.30" y="90.60" width="163.70" height="2.50" fill="url(#rb46)"/><rect x="461.30" y="92.60" width="163.70" height="2.50" fill="url(#rb47)"/><rect x="461.30" y="94.60" width="163.70" height="2.50" fill="url(#rb48)"/><rect x="461.30" y="96.60" width="163.70" height="2.50" fill="url(#rb49)"/><rect x="461.30" y="98.60" width="163.70" height="2.50" fill="url(#rb50)"/><rect x="461.30" y="100.60" width="163.70" height="2.50" fill="url(#rb51)"/><rect x="461.30" y="102.60" width="163.70" height="2.50" fill="url(#rb52)"/><rect x="461.30" y="104.60" width="163.70" height="2.50" fill="url(#rb53)"/><rect x="461.30" y="106.60" width="163.70" height="2.50" fill="url(#rb54)"/><rect x="461.30" y="108.60" width="163.70" height="2.50" fill="url(#rb55)"/><rect x="461.30" y="110.60" width="163.70" height="2.50" fill="url(#rb56)"/><rect x="461.30" y="112.60" width="163.70" height="2.50" fill="url(#rb57)"/><rect x="461.30" y="114.60" width="163.70" height="2.50" fill="url(#rb58)"/><rect x="461.30" y="116.60" width="163.70" height="2.50" fill="url(#rb59)"/><rect x="461.30" y="118.60" width="163.70" height="2.50" fill="url(#rb60)"/><rect x="461.30" y="120.60" width="163.70" height="2.50" fill="url(#rb61)"/><rect x="461.30" y="122.60" width="163.70" height="2.50" fill="url(#rb62)"/><rect x="461.30" y="124.60" width="163.70" height="2.50" fill="url(#rb63)"/><rect x="461.30" y="126.60" width="163.70" height="2.50" fill="url(#rb64)"/><rect x="461.30" y="128.60" width="163.70" height="2.50" fill="url(#rb65)"/><rect x="461.30" y="130.60" width="163.70" height="2.50" fill="url(#rb66)"/><rect x="461.30" y="132.60" width="163.70" height="2.50" fill="url(#rb67)"/><rect x="461.30" y="134.60" width="163.70" height="2.50" fill="url(#rb68)"/><rect x="461.30" y="136.60" width="163.70" height="2.50" fill="url(#rb69)"/><rect x="461.30" y="138.60" width="163.70" height="2.50" fill="url(#rb70)"/><rect x="461.30" y="140.60" width="163.70" height="2.50" fill="url(#rb71)"/><rect x="461.30" y="142.60" width="163.70" height="2.50" fill="url(#rb72)"/><rect x="461.30" y="144.60" width="163.70" height="2.50" fill="url(#rb73)"/><rect x="461.30" y="146.60" width="163.70" height="2.50" fill="url(#rb74)"/><rect x="461.30" y="148.60" width="163.70" height="2.50" fill="url(#rb75)"/><rect x="461.30" y="150.60" width="163.70" height="2.50" fill="url(#rb76)"/><rect x="461.30" y="152.60" width="163.70" height="2.50" fill="url(#rb77)"/><rect x="461.30" y="154.60" width="163.70" height="2.50" fill="url(#rb78)"/><rect x="461.30" y="156.60" width="163.70" height="2.50" fill="url(#rb79)"/></g></g>
<g filter="url(#cm)"><rect x="469.30" y="190.00" width="147.70" height="146.60" fill="url(#gc)"/></g>
<g fill="none" stroke="#fff" stroke-width="2.2" stroke-dasharray="5.2 3.3"><path d="M329.7 47.5C330.0 49.3 330.8 54.8 331.3 58.3C331.8 61.8 332.2 65.0 332.5 68.4C332.8 71.8 333.1 75.3 333.3 78.9C333.6 82.5 333.8 85.8 334.0 90.1C334.2 94.4 334.4 100.3 334.5 104.5C334.6 108.7 334.7 109.1 334.8 115.0C334.9 120.9 334.9 132.5 335.0 140.0C335.1 147.5 335.2 154.9 335.3 160.0C335.4 165.1 335.4 167.0 335.4 170.5C335.4 174.0 335.4 175.9 335.3 181.0C335.2 186.1 335.1 193.5 335.0 201.0C334.9 208.5 334.9 220.1 334.8 226.0C334.7 231.9 334.6 232.3 334.5 236.5C334.4 240.7 334.2 246.6 334.0 250.9C333.8 255.2 333.6 258.5 333.3 262.1C333.1 265.7 332.8 269.2 332.5 272.6C332.2 276.0 331.8 279.2 331.3 282.7C330.8 286.2 330.0 291.7 329.7 293.5" stroke-dasharray="4.4 5.5" stroke-dashoffset="2.8"/><path d="M329.7 47.5C329.3 46.2 328.2 42.0 327.3 39.5C326.4 37.0 325.3 34.4 324.1 32.3C322.9 30.1 321.4 28.2 320.1 26.6C318.8 25.1 317.7 23.9 316.1 23.0C314.5 22.1 312.5 21.4 310.5 21.0C308.5 20.6 306.4 20.5 304.0 20.7C301.6 20.9 298.9 21.4 296.0 22.3C293.1 23.2 289.6 24.6 286.5 26.0C283.4 27.4 280.6 28.9 277.7 30.5C274.8 32.0 271.3 33.9 268.9 35.3C266.5 36.7 265.7 37.4 263.3 38.9C260.9 40.4 257.3 42.4 254.5 44.1C251.7 45.8 249.3 47.4 246.5 49.3C243.7 51.2 240.7 53.6 237.6 55.7C234.5 57.8 230.9 60.1 228.0 62.1C225.1 64.2 224.8 64.3 220.0 68.0C215.2 71.7 206.1 79.0 199.3 84.0C192.5 89.0 184.1 94.5 179.2 98.2C174.3 101.9 172.6 104.1 169.7 106.4C166.8 108.7 164.5 110.0 161.7 112.0C158.9 114.0 155.7 116.2 152.9 118.4C150.1 120.6 147.4 122.8 144.9 124.9C142.4 127.1 140.0 129.2 137.7 131.3C135.4 133.4 133.3 135.6 131.3 137.7C129.3 139.8 127.5 141.9 125.7 144.1C124.0 146.3 122.2 148.8 120.8 151.0C119.4 153.2 118.2 155.4 117.5 157.6C116.8 159.8 116.5 162.3 116.5 164.0C116.5 165.7 116.8 166.9 117.5 168.0C118.2 169.1 118.4 169.0 120.8 170.5C123.2 172.0 128.6 175.1 132.1 177.0C135.6 178.9 138.5 180.5 141.7 182.1C144.9 183.7 148.1 185.2 151.3 186.6C154.5 188.0 157.7 189.4 160.9 190.6C164.1 191.8 167.3 192.9 170.5 193.8C173.7 194.7 177.2 195.5 180.0 196.2C182.8 196.9 184.7 197.1 187.2 197.8C189.7 198.5 192.4 199.3 195.2 200.2C198.0 201.1 201.1 202.2 204.0 203.0C206.9 203.8 210.1 204.7 212.9 205.3C215.7 206.0 218.2 206.5 220.9 206.9C223.6 207.3 226.6 207.8 228.9 207.9C231.2 208.0 232.9 207.9 234.5 207.4C236.1 206.9 237.5 206.1 238.5 205.0C239.5 203.9 240.3 202.8 240.6 201.0C240.9 199.2 240.4 196.5 240.1 194.5C239.8 192.5 239.1 190.9 238.5 188.9C237.9 186.9 237.1 184.6 236.4 182.5C235.7 180.4 234.9 177.8 234.2 176.1C233.5 174.4 232.6 173.0 232.1 172.1C231.6 171.2 231.2 170.8 231.0 170.5"/><path d="M231.0 170.5C231.2 170.2 231.6 169.8 232.1 168.9C232.6 168.0 233.5 166.6 234.2 164.9C234.9 163.2 235.7 160.6 236.4 158.5C237.1 156.4 237.9 154.1 238.5 152.1C239.1 150.1 239.8 148.5 240.1 146.5C240.4 144.5 240.9 141.8 240.6 140.0C240.3 138.2 239.5 137.1 238.5 136.0C237.5 134.9 236.1 134.1 234.5 133.6C232.9 133.1 231.2 133.0 228.9 133.1C226.6 133.2 223.6 133.7 220.9 134.1C218.2 134.5 215.7 135.0 212.9 135.7C210.1 136.3 206.9 137.2 204.0 138.0C201.1 138.8 198.0 139.9 195.2 140.8C192.4 141.7 189.7 142.5 187.2 143.2C184.7 143.9 182.8 144.1 180.0 144.8C177.2 145.5 173.7 146.3 170.5 147.2C167.3 148.1 164.1 149.2 160.9 150.4C157.7 151.6 154.5 153.0 151.3 154.4C148.1 155.8 144.9 157.3 141.7 158.9C138.5 160.5 135.6 162.1 132.1 164.0C128.6 165.9 123.2 169.0 120.8 170.5C118.4 172.0 118.2 171.9 117.5 173.0C116.8 174.1 116.5 175.3 116.5 177.0C116.5 178.7 116.8 181.2 117.5 183.4C118.2 185.6 119.4 187.8 120.8 190.0C122.2 192.2 124.0 194.7 125.7 196.9C127.5 199.1 129.3 201.2 131.3 203.3C133.3 205.4 135.4 207.6 137.7 209.7C140.0 211.8 142.4 213.9 144.9 216.1C147.4 218.2 150.1 220.4 152.9 222.6C155.7 224.8 158.9 227.0 161.7 229.0C164.5 231.0 166.8 232.3 169.7 234.6C172.6 236.9 174.3 239.1 179.2 242.8C184.1 246.5 192.5 252.0 199.3 257.0C206.1 262.0 215.2 269.4 220.0 273.0C224.8 276.6 225.1 276.8 228.0 278.9C230.9 280.9 234.5 283.2 237.6 285.3C240.7 287.4 243.7 289.8 246.5 291.7C249.3 293.6 251.7 295.2 254.5 296.9C257.3 298.6 260.9 300.6 263.3 302.1C265.7 303.6 266.5 304.3 268.9 305.7C271.3 307.1 274.8 308.9 277.7 310.5C280.6 312.1 283.4 313.6 286.5 315.0C289.6 316.4 293.1 317.8 296.0 318.7C298.9 319.6 301.6 320.1 304.0 320.3C306.4 320.5 308.5 320.4 310.5 320.0C312.5 319.6 314.5 318.9 316.1 318.0C317.7 317.1 318.8 315.9 320.1 314.4C321.4 312.8 322.9 310.8 324.1 308.7C325.3 306.6 326.4 304.0 327.3 301.5C328.2 299.0 329.3 294.8 329.7 293.5"/><path d="M225.7 168.6v4" stroke-dasharray="none"/><circle cx="230.9" cy="170.4" r="1.7" fill="#fff" stroke="none"/></g>
<circle cx="336" cy="170.6" r="3.6" fill="#d7222b"/>
<rect x="59.00" y="4.70" width="332.70" height="332.20" fill="none" stroke="#000" stroke-width="1.70"/>
<path d="M59.00 336.90v4.6M59.00 4.70v-4.6M59.00 336.90h-4.6M391.70 336.90h4.6M142.18 336.90v4.6M142.18 4.70v-4.6M59.00 253.85h-4.6M391.70 253.85h4.6M225.35 336.90v4.6M225.35 4.70v-4.6M59.00 170.80h-4.6M391.70 170.80h4.6M308.52 336.90v4.6M308.52 4.70v-4.6M59.00 87.75h-4.6M391.70 87.75h4.6M391.70 336.90v4.6M391.70 4.70v-4.6M59.00 4.70h-4.6M391.70 4.70h4.6" stroke="#000" stroke-width="1" fill="none"/>
<text x="47.0" y="341.2" text-anchor="end">−3</text><text x="59.0" y="358" text-anchor="middle">−3</text><text x="47.0" y="258.1" text-anchor="end">−1.5</text><text x="142.2" y="358" text-anchor="middle">−1.5</text><text x="47.0" y="175.1" text-anchor="end">0</text><text x="225.3" y="358" text-anchor="middle">0</text><text x="47.0" y="92.0" text-anchor="end">1.5</text><text x="308.5" y="358" text-anchor="middle">1.5</text><text x="47.0" y="9.0" text-anchor="end">3</text><text x="391.7" y="358" text-anchor="middle">3</text>
<text x="225.2" y="370.4" text-anchor="middle">p<tspan dy="3" font-size="9.6">x</tspan><tspan dy="-3"> (a.u.)</tspan></text>
<text transform="translate(9.2 170.8) rotate(-90)" text-anchor="middle">p<tspan dy="3" font-size="9.6">y</tspan><tspan dy="-3"> (a.u.)</tspan></text>
<text class="w" x="356" y="24" letter-spacing="0.6">(a)</text>
<g filter="url(#cm)"><rect x="76.50" y="204.70" width="14.80" height="112.90" fill="url(#cbg)"/></g><rect x="76.50" y="204.70" width="14.80" height="112.90" fill="none" stroke="#000" stroke-width="0.90"/><text class="w" x="102.2" y="321.9">0</text><text class="w" x="102.2" y="299.3">0.2</text><text class="w" x="102.2" y="276.7">0.4</text><text class="w" x="102.2" y="254.2">0.6</text><text class="w" x="102.2" y="231.6">0.8</text><text class="w" x="102.2" y="209.0">1</text><path d="M76.50 295.02h2.6M91.30 295.02h-2.6M76.50 272.44h2.6M91.30 272.44h-2.6M76.50 249.86h2.6M91.30 249.86h-2.6M76.50 227.28h2.6M91.30 227.28h-2.6" stroke="#000" stroke-width="0.9" fill="none"/>
<rect x="69.40" y="12.40" width="91.40" height="89.90" fill="#fff" stroke="#000" stroke-width="1.7"/><path d="M114.7 12.40v3.8M114.7 102.30v-3.8M69.40 71.4h3.8M160.80 71.4h-3.8" stroke="#000" stroke-width="1" fill="none"/><path d="M114.9 21.6Q106.4 65.7 81.4 95.5Q109.6 82.5 136.6 78.4L116.9 66.6V64.4H112.9L113.6 71.3Q114.9 72.2 116.2 71.3L116.9 64.4M112.9 66.6L93.2 78.4Q120.2 82.5 148.4 95.5Q123.4 65.7 114.9 21.6" fill="none" stroke="#3976bb" stroke-width="1.25" stroke-linejoin="round"/><circle cx="114.9" cy="21.6" r="3.6" fill="#d7222b"/><text class="w" x="108" y="117.3">E<tspan dy="3.2" font-size="9.8">x</tspan></text><text class="w" transform="translate(174.4 74.4) rotate(-90)">E<tspan dy="3.2" font-size="9.8">y</tspan></text>
<path d="M469.30 78.20H617.00" stroke="#000" stroke-width="0.7" stroke-dasharray="1.4 1.4" fill="none"/><path d="M469.30 58.40L472.99 57.60L476.69 56.76L480.38 55.89L484.07 55.00L487.76 54.09L491.45 53.17L495.15 52.25L498.84 51.34L502.53 50.45L506.23 49.59L509.92 48.77L513.61 48.00L517.30 47.30L521.00 46.67L524.69 46.11L528.38 45.65L532.07 45.28L535.76 45.02L539.46 44.85L543.15 44.80L546.84 44.85L550.53 45.02L554.23 45.28L557.92 45.65L561.61 46.11L565.31 46.67L569.00 47.30L572.69 48.00L576.38 48.77L580.08 49.59L583.77 50.45L587.46 51.34L591.15 52.25L594.85 53.17L598.54 54.09L602.23 55.00L605.92 55.89L609.62 56.76L613.31 57.60L617.00 58.40" stroke="#000" stroke-width="1.9" fill="none"/>
<rect x="469.30" y="4.60" width="147.70" height="147.20" fill="none" stroke="#000" stroke-width="1.70"/><path d="M506.23 151.80v-4.2M506.23 4.60v4.2M469.30 115.00h4.2M617.00 115.00h-4.2M543.15 151.80v-4.2M543.15 4.60v4.2M469.30 78.20h4.2M617.00 78.20h-4.2M580.08 151.80v-4.2M580.08 4.60v4.2M469.30 41.40h4.2M617.00 41.40h-4.2" stroke="#000" stroke-width="1" fill="none"/><text x="462.3" y="156.1" text-anchor="end">−0.6</text><text x="469.3" y="168.4" text-anchor="middle">−0.6</text><text x="462.3" y="119.3" text-anchor="end">−0.3</text><text x="506.2" y="168.4" text-anchor="middle">−0.3</text><text x="462.3" y="82.5" text-anchor="end">0</text><text x="543.1" y="168.4" text-anchor="middle">0</text><text x="462.3" y="45.7" text-anchor="end">0.3</text><text x="580.1" y="168.4" text-anchor="middle">0.3</text><text x="462.3" y="8.9" text-anchor="end">0.6</text><text x="617.0" y="168.4" text-anchor="middle">0.6</text>
<rect x="469.30" y="190.00" width="147.70" height="146.60" fill="none" stroke="#000" stroke-width="1.70"/><path d="M506.23 336.60v-4.2M506.23 190.00v4.2M469.30 299.95h4.2M617.00 299.95h-4.2M543.15 336.60v-4.2M543.15 190.00v4.2M469.30 263.30h4.2M617.00 263.30h-4.2M580.08 336.60v-4.2M580.08 190.00v4.2M469.30 226.65h4.2M617.00 226.65h-4.2" stroke="#000" stroke-width="1" fill="none"/><text x="462.3" y="340.9" text-anchor="end">−0.6</text><text x="469.3" y="353.2" text-anchor="middle">−0.6</text><text x="462.3" y="304.3" text-anchor="end">−0.3</text><text x="506.2" y="353.2" text-anchor="middle">−0.3</text><text x="462.3" y="267.6" text-anchor="end">0</text><text x="543.1" y="353.2" text-anchor="middle">0</text><text x="462.3" y="231.0" text-anchor="end">0.3</text><text x="580.1" y="353.2" text-anchor="middle">0.3</text><text x="462.3" y="194.3" text-anchor="end">0.6</text><text x="617.0" y="353.2" text-anchor="middle">0.6</text>
<text x="479.8" y="24.2" letter-spacing="0.6">(b)</text><text x="479.8" y="209.6" letter-spacing="0.6">(c)</text>
<text x="543.5" y="183.6" text-anchor="middle">p<tspan dy="3" font-size="9.6">z</tspan><tspan dy="-3"> (a.u.)</tspan></text>
<text x="543.5" y="369" text-anchor="middle">p<tspan dy="3" font-size="9.6">x</tspan><tspan dy="-3">+A</tspan><tspan dy="3" font-size="9.6">x</tspan><tspan dy="-3">(0) (a.u.)</tspan></text>
<text transform="translate(431.6 78.2) rotate(-90)" text-anchor="middle">p<tspan dy="3" font-size="9.6">y</tspan><tspan dy="-3"> (a.u.)</tspan></text>
<text transform="translate(431.6 263.2) rotate(-90)" text-anchor="middle">p<tspan dy="3" font-size="9.6">z</tspan><tspan dy="-3"> (a.u.)</tspan></text>
<g filter="url(#cm)"><rect x="629.20" y="4.60" width="14.60" height="147.20" fill="url(#cbg)"/></g><rect x="629.20" y="4.60" width="14.60" height="147.20" fill="none" stroke="#000" stroke-width="0.90"/><text x="654.6" y="126.7">0.8</text><text x="654.6" y="67.8">0.9</text><text x="654.6" y="8.9">1</text><path d="M629.20 122.36h2.6M643.80 122.36h-2.6M629.20 63.48h2.6M643.80 63.48h-2.6" stroke="#000" stroke-width="0.9" fill="none"/>
<g filter="url(#cm)"><rect x="629.20" y="190.00" width="14.60" height="146.60" fill="url(#cbg)"/></g><rect x="629.20" y="190.00" width="14.60" height="146.60" fill="none" stroke="#000" stroke-width="0.90"/><text x="654.6" y="340.9">0</text><text x="654.6" y="315.5">0.05</text><text x="654.6" y="290.1">0.1</text><text x="654.6" y="264.7">0.15</text><text x="654.6" y="239.3">0.2</text><text x="654.6" y="213.9">0.25</text><path d="M629.20 311.20h2.6M643.80 311.20h-2.6M629.20 285.80h2.6M643.80 285.80h-2.6M629.20 260.40h2.6M643.80 260.40h-2.6M629.20 235.01h2.6M643.80 235.01h-2.6M629.20 209.61h2.6M643.80 209.61h-2.6" stroke="#000" stroke-width="0.9" fill="none"/>
<text transform="translate(695.3 77.3) rotate(-90)" text-anchor="middle" font-size="12.3">yield (arb. units)</text>
<text transform="translate(701 261.8) rotate(-90)" text-anchor="middle">Δp<tspan dy="3" font-size="9.6">y</tspan><tspan dy="-3"> (a.u.)</tspan></text>
</svg>
</body></html>
